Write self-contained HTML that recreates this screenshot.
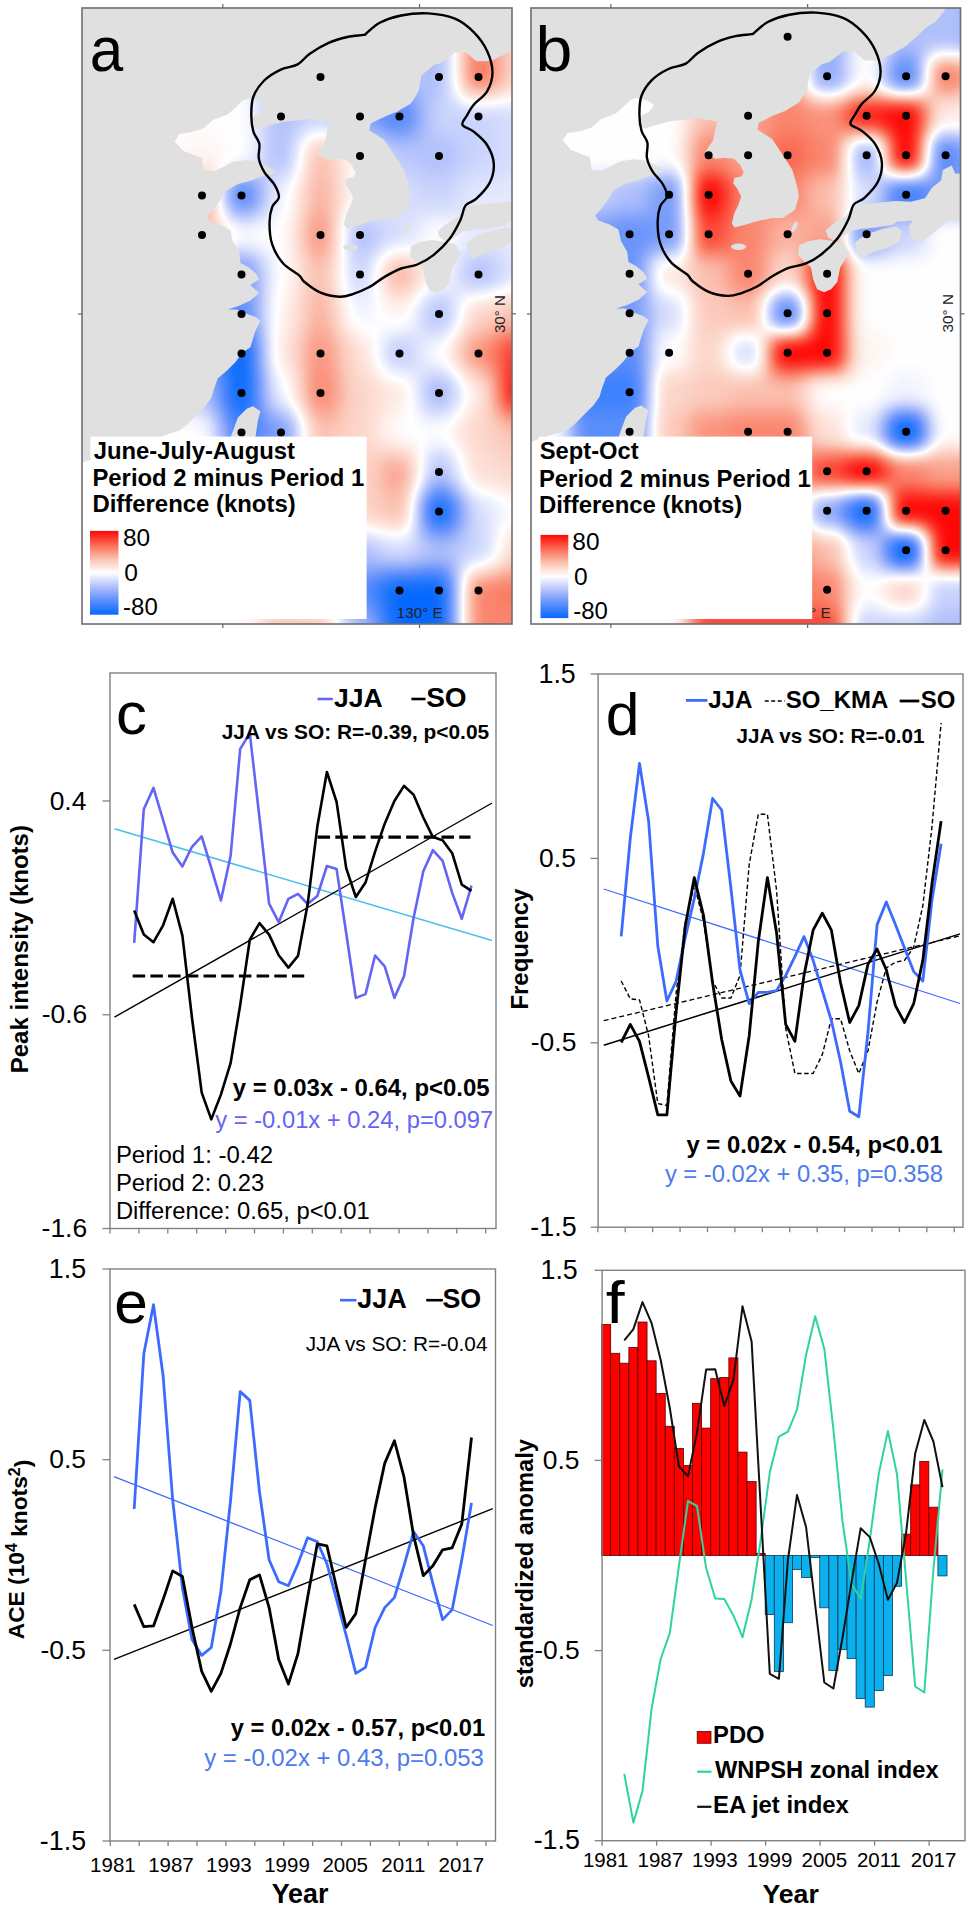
<!DOCTYPE html>
<html><head><meta charset="utf-8"><style>
html,body{margin:0;padding:0;background:#fff;}
svg{display:block;font-family:"Liberation Sans", sans-serif;}

</style></head><body>
<svg width="968" height="1909" viewBox="0 0 968 1909">
<rect x="0" y="0" width="968" height="1909" fill="#fff"/>
<defs>
<path id="seaP" d="M174.7,141.4 L179.3,133.9 L192.4,132.1 L203.5,128.3 L212.8,120.0 L227.7,114.4 L235.1,107.9 L242.6,100.5 L248.1,98.6 L259.3,101.4 L265.8,106.0 L261.2,112.5 L253.7,116.3 L250.0,126.5 L257.4,129.3 L268.6,125.6 L283.5,121.8 L302.1,120.0 L307.5,118.9 L318.0,120.5 L329.0,122.2 L327.0,132.0 L325.0,141.0 L316.9,153.1 L327.6,159.8 L337.0,158.5 L346.4,159.8 L351.8,165.2 L355.8,173.3 L353.1,177.3 L346.4,178.6 L345.1,184.0 L349.1,189.4 L353.1,197.4 L350.4,205.5 L346.4,213.6 L343.7,224.3 L346.4,228.3 L357.2,225.6 L370.6,221.6 L384.0,218.9 L394.8,218.9 L406.8,210.9 L410.9,197.4 L408.2,184.0 L404.2,170.6 L397.4,159.8 L389.4,147.7 L384.0,139.7 L373.3,133.0 L369.2,130.3 L370.6,123.6 L384.0,116.9 L397.4,111.5 L410.9,103.4 L416.2,95.4 L418.9,90.0 L421.4,75.5 L433.9,64.9 L441.0,63.1 L455.2,52.4 L465.9,52.4 L476.5,61.3 L490.7,61.3 L505.0,54.2 L517.4,47.1 L529.8,36.4 L536.9,29.3 L547.6,22.2 L556.5,11.6 L560.0,0.0 L600.0,0.0 L600.0,640.0 L60.0,640.0 L60.0,470.0 L180.0,430.2 L186.3,425.2 L195.1,416.4 L205.2,406.3 L211.4,397.5 L214.0,388.7 L217.7,378.6 L227.8,369.8 L235.3,362.3 L242.9,352.2 L250.4,347.2 L253.0,338.4 L255.5,330.8 L260.5,320.8 L255.5,317.0 L245.4,313.2 L236.6,309.4 L227.8,309.4 L239.1,305.7 L250.4,300.6 L259.2,293.1 L250.4,285.0 L259.2,279.2 L255.5,273.0 L247.9,266.7 L240.4,262.9 L239.1,252.8 L232.8,241.5 L230.3,230.2 L221.5,225.2 L210.2,221.4 L207.0,216.4 L212.7,210.1 L220.3,200.0 L225.1,191.2 L238.1,184.0 L249.7,181.1 L261.2,176.8 L272.8,173.9 L276.0,172.0 L272.3,169.3 L259.3,161.8 L246.3,160.0 L233.3,161.8 L214.7,171.1 L203.5,171.1 L201.7,158.1 L183.1,150.7 Z"/>
<clipPath id="seaclip"><path d="M174.7,141.4 L179.3,133.9 L192.4,132.1 L203.5,128.3 L212.8,120.0 L227.7,114.4 L235.1,107.9 L242.6,100.5 L248.1,98.6 L259.3,101.4 L265.8,106.0 L261.2,112.5 L253.7,116.3 L250.0,126.5 L257.4,129.3 L268.6,125.6 L283.5,121.8 L302.1,120.0 L307.5,118.9 L318.0,120.5 L329.0,122.2 L327.0,132.0 L325.0,141.0 L316.9,153.1 L327.6,159.8 L337.0,158.5 L346.4,159.8 L351.8,165.2 L355.8,173.3 L353.1,177.3 L346.4,178.6 L345.1,184.0 L349.1,189.4 L353.1,197.4 L350.4,205.5 L346.4,213.6 L343.7,224.3 L346.4,228.3 L357.2,225.6 L370.6,221.6 L384.0,218.9 L394.8,218.9 L406.8,210.9 L410.9,197.4 L408.2,184.0 L404.2,170.6 L397.4,159.8 L389.4,147.7 L384.0,139.7 L373.3,133.0 L369.2,130.3 L370.6,123.6 L384.0,116.9 L397.4,111.5 L410.9,103.4 L416.2,95.4 L418.9,90.0 L421.4,75.5 L433.9,64.9 L441.0,63.1 L455.2,52.4 L465.9,52.4 L476.5,61.3 L490.7,61.3 L505.0,54.2 L517.4,47.1 L529.8,36.4 L536.9,29.3 L547.6,22.2 L556.5,11.6 L560.0,0.0 L600.0,0.0 L600.0,640.0 L60.0,640.0 L60.0,470.0 L180.0,430.2 L186.3,425.2 L195.1,416.4 L205.2,406.3 L211.4,397.5 L214.0,388.7 L217.7,378.6 L227.8,369.8 L235.3,362.3 L242.9,352.2 L250.4,347.2 L253.0,338.4 L255.5,330.8 L260.5,320.8 L255.5,317.0 L245.4,313.2 L236.6,309.4 L227.8,309.4 L239.1,305.7 L250.4,300.6 L259.2,293.1 L250.4,285.0 L259.2,279.2 L255.5,273.0 L247.9,266.7 L240.4,262.9 L239.1,252.8 L232.8,241.5 L230.3,230.2 L221.5,225.2 L210.2,221.4 L207.0,216.4 L212.7,210.1 L220.3,200.0 L225.1,191.2 L238.1,184.0 L249.7,181.1 L261.2,176.8 L272.8,173.9 L276.0,172.0 L272.3,169.3 L259.3,161.8 L246.3,160.0 L233.3,161.8 L214.7,171.1 L203.5,171.1 L201.7,158.1 L183.1,150.7 Z"/></clipPath>
<filter id="fa" x="0" y="-60" width="700" height="760" filterUnits="userSpaceOnUse" color-interpolation-filters="sRGB"><feGaussianBlur stdDeviation="11.5"/><feComponentTransfer><feFuncR type="table" tableValues="0.020 0.071 0.123 0.174 0.225 0.277 0.328 0.380 0.431 0.480 0.529 0.578 0.627 0.676 0.725 0.771 0.817 0.863 0.908 0.954 1.000 0.998 0.996 0.994 0.992 0.990 0.988 0.987 0.986 0.984 0.983 0.982 0.980 0.983 0.985 0.988 0.990 0.993 0.995 0.998 1.000"/><feFuncG type="table" tableValues="0.412 0.434 0.456 0.478 0.500 0.522 0.544 0.566 0.588 0.620 0.651 0.682 0.714 0.745 0.776 0.814 0.851 0.888 0.925 0.963 1.000 0.964 0.928 0.892 0.856 0.820 0.784 0.735 0.686 0.637 0.588 0.539 0.490 0.433 0.375 0.318 0.261 0.203 0.146 0.089 0.031"/><feFuncB type="table" tableValues="1.000 0.999 0.997 0.996 0.994 0.993 0.991 0.990 0.988 0.988 0.988 0.988 0.988 0.988 0.988 0.990 0.992 0.994 0.996 0.998 1.000 0.954 0.908 0.863 0.817 0.771 0.725 0.670 0.614 0.559 0.503 0.448 0.392 0.346 0.299 0.252 0.206 0.159 0.113 0.066 0.020"/><feFuncA type="linear" slope="100" intercept="0"/></feComponentTransfer></filter>
<filter id="fb" x="0" y="-60" width="700" height="760" filterUnits="userSpaceOnUse" color-interpolation-filters="sRGB"><feGaussianBlur stdDeviation="10"/><feComponentTransfer><feFuncR type="table" tableValues="0.020 0.071 0.123 0.174 0.225 0.277 0.328 0.380 0.431 0.480 0.529 0.578 0.627 0.676 0.725 0.771 0.817 0.863 0.908 0.954 1.000 0.998 0.996 0.994 0.992 0.990 0.988 0.987 0.986 0.984 0.983 0.982 0.980 0.983 0.985 0.988 0.990 0.993 0.995 0.998 1.000"/><feFuncG type="table" tableValues="0.412 0.434 0.456 0.478 0.500 0.522 0.544 0.566 0.588 0.620 0.651 0.682 0.714 0.745 0.776 0.814 0.851 0.888 0.925 0.963 1.000 0.964 0.928 0.892 0.856 0.820 0.784 0.735 0.686 0.637 0.588 0.539 0.490 0.433 0.375 0.318 0.261 0.203 0.146 0.089 0.031"/><feFuncB type="table" tableValues="1.000 0.999 0.997 0.996 0.994 0.993 0.991 0.990 0.988 0.988 0.988 0.988 0.988 0.988 0.988 0.990 0.992 0.994 0.996 0.998 1.000 0.954 0.908 0.863 0.817 0.771 0.725 0.670 0.614 0.559 0.503 0.448 0.392 0.346 0.299 0.252 0.206 0.159 0.113 0.066 0.020"/><feFuncA type="linear" slope="100" intercept="0"/></feComponentTransfer></filter>
</defs>
<clipPath id="clipa"><rect x="82" y="8" width="430" height="616"/></clipPath>
<clipPath id="clipb"><rect x="531" y="8" width="429.5" height="616"/></clipPath>
<g clip-path="url(#clipa)">
<rect x="82.00" y="8.00" width="430.00" height="616.00" fill="#e0e0e0" stroke="none" stroke-width="1"/>
<g transform="translate(0,0)">
<g clip-path="url(#seaclip)"><g filter="url(#fa)"><rect x="24.2" y="-61.2" width="40.1" height="40.1" fill="rgb(128,128,128)"/><rect x="63.8" y="-61.2" width="40.1" height="40.1" fill="rgb(128,128,128)"/><rect x="103.2" y="-61.2" width="40.1" height="40.1" fill="rgb(128,128,128)"/><rect x="142.8" y="-61.2" width="40.1" height="40.1" fill="rgb(128,128,128)"/><rect x="182.2" y="-61.2" width="40.1" height="40.1" fill="rgb(128,128,128)"/><rect x="221.8" y="-61.2" width="40.1" height="40.1" fill="rgb(128,128,128)"/><rect x="261.2" y="-61.2" width="40.1" height="40.1" fill="rgb(128,128,128)"/><rect x="300.8" y="-61.2" width="40.1" height="40.1" fill="rgb(128,128,128)"/><rect x="340.2" y="-61.2" width="40.1" height="40.1" fill="rgb(128,128,128)"/><rect x="379.8" y="-61.2" width="40.1" height="40.1" fill="rgb(85,85,85)"/><rect x="419.2" y="-61.2" width="40.1" height="40.1" fill="rgb(85,85,85)"/><rect x="458.8" y="-61.2" width="40.1" height="40.1" fill="rgb(185,185,185)"/><rect x="498.2" y="-61.2" width="40.1" height="40.1" fill="rgb(156,156,156)"/><rect x="537.8" y="-61.2" width="40.1" height="40.1" fill="rgb(128,128,128)"/><rect x="577.2" y="-61.2" width="40.1" height="40.1" fill="rgb(128,128,128)"/><rect x="24.2" y="-21.8" width="40.1" height="40.1" fill="rgb(128,128,128)"/><rect x="63.8" y="-21.8" width="40.1" height="40.1" fill="rgb(128,128,128)"/><rect x="103.2" y="-21.8" width="40.1" height="40.1" fill="rgb(128,128,128)"/><rect x="142.8" y="-21.8" width="40.1" height="40.1" fill="rgb(128,128,128)"/><rect x="182.2" y="-21.8" width="40.1" height="40.1" fill="rgb(128,128,128)"/><rect x="221.8" y="-21.8" width="40.1" height="40.1" fill="rgb(128,128,128)"/><rect x="261.2" y="-21.8" width="40.1" height="40.1" fill="rgb(128,128,128)"/><rect x="300.8" y="-21.8" width="40.1" height="40.1" fill="rgb(128,128,128)"/><rect x="340.2" y="-21.8" width="40.1" height="40.1" fill="rgb(128,128,128)"/><rect x="379.8" y="-21.8" width="40.1" height="40.1" fill="rgb(85,85,85)"/><rect x="419.2" y="-21.8" width="40.1" height="40.1" fill="rgb(85,85,85)"/><rect x="458.8" y="-21.8" width="40.1" height="40.1" fill="rgb(199,199,199)"/><rect x="498.2" y="-21.8" width="40.1" height="40.1" fill="rgb(156,156,156)"/><rect x="537.8" y="-21.8" width="40.1" height="40.1" fill="rgb(128,128,128)"/><rect x="577.2" y="-21.8" width="40.1" height="40.1" fill="rgb(128,128,128)"/><rect x="24.2" y="17.8" width="40.1" height="40.1" fill="rgb(128,128,128)"/><rect x="63.8" y="17.8" width="40.1" height="40.1" fill="rgb(128,128,128)"/><rect x="103.2" y="17.8" width="40.1" height="40.1" fill="rgb(128,128,128)"/><rect x="142.8" y="17.8" width="40.1" height="40.1" fill="rgb(128,128,128)"/><rect x="182.2" y="17.8" width="40.1" height="40.1" fill="rgb(128,128,128)"/><rect x="221.8" y="17.8" width="40.1" height="40.1" fill="rgb(128,128,128)"/><rect x="261.2" y="17.8" width="40.1" height="40.1" fill="rgb(113,113,113)"/><rect x="300.8" y="17.8" width="40.1" height="40.1" fill="rgb(128,128,128)"/><rect x="340.2" y="17.8" width="40.1" height="40.1" fill="rgb(128,128,128)"/><rect x="379.8" y="17.8" width="40.1" height="40.1" fill="rgb(85,85,85)"/><rect x="419.2" y="17.8" width="40.1" height="40.1" fill="rgb(85,85,85)"/><rect x="458.8" y="17.8" width="40.1" height="40.1" fill="rgb(206,206,206)"/><rect x="498.2" y="17.8" width="40.1" height="40.1" fill="rgb(156,156,156)"/><rect x="537.8" y="17.8" width="40.1" height="40.1" fill="rgb(128,128,128)"/><rect x="577.2" y="17.8" width="40.1" height="40.1" fill="rgb(128,128,128)"/><rect x="24.2" y="57.2" width="40.1" height="40.1" fill="rgb(128,128,128)"/><rect x="63.8" y="57.2" width="40.1" height="40.1" fill="rgb(128,128,128)"/><rect x="103.2" y="57.2" width="40.1" height="40.1" fill="rgb(128,128,128)"/><rect x="142.8" y="57.2" width="40.1" height="40.1" fill="rgb(128,128,128)"/><rect x="182.2" y="57.2" width="40.1" height="40.1" fill="rgb(128,128,128)"/><rect x="221.8" y="57.2" width="40.1" height="40.1" fill="rgb(120,120,120)"/><rect x="261.2" y="57.2" width="40.1" height="40.1" fill="rgb(99,99,99)"/><rect x="300.8" y="57.2" width="40.1" height="40.1" fill="rgb(99,99,99)"/><rect x="340.2" y="57.2" width="40.1" height="40.1" fill="rgb(85,85,85)"/><rect x="379.8" y="57.2" width="40.1" height="40.1" fill="rgb(85,85,85)"/><rect x="419.2" y="57.2" width="40.1" height="40.1" fill="rgb(85,85,85)"/><rect x="458.8" y="57.2" width="40.1" height="40.1" fill="rgb(206,206,206)"/><rect x="498.2" y="57.2" width="40.1" height="40.1" fill="rgb(156,156,156)"/><rect x="537.8" y="57.2" width="40.1" height="40.1" fill="rgb(142,142,142)"/><rect x="577.2" y="57.2" width="40.1" height="40.1" fill="rgb(128,128,128)"/><rect x="24.2" y="96.8" width="40.1" height="40.1" fill="rgb(128,128,128)"/><rect x="63.8" y="96.8" width="40.1" height="40.1" fill="rgb(128,128,128)"/><rect x="103.2" y="96.8" width="40.1" height="40.1" fill="rgb(128,128,128)"/><rect x="142.8" y="96.8" width="40.1" height="40.1" fill="rgb(128,128,128)"/><rect x="182.2" y="96.8" width="40.1" height="40.1" fill="rgb(128,128,128)"/><rect x="221.8" y="96.8" width="40.1" height="40.1" fill="rgb(128,128,128)"/><rect x="261.2" y="96.8" width="40.1" height="40.1" fill="rgb(85,85,85)"/><rect x="300.8" y="96.8" width="40.1" height="40.1" fill="rgb(99,99,99)"/><rect x="340.2" y="96.8" width="40.1" height="40.1" fill="rgb(63,63,63)"/><rect x="379.8" y="96.8" width="40.1" height="40.1" fill="rgb(35,35,35)"/><rect x="419.2" y="96.8" width="40.1" height="40.1" fill="rgb(99,99,99)"/><rect x="458.8" y="96.8" width="40.1" height="40.1" fill="rgb(99,99,99)"/><rect x="498.2" y="96.8" width="40.1" height="40.1" fill="rgb(106,106,106)"/><rect x="537.8" y="96.8" width="40.1" height="40.1" fill="rgb(128,128,128)"/><rect x="577.2" y="96.8" width="40.1" height="40.1" fill="rgb(128,128,128)"/><rect x="24.2" y="136.2" width="40.1" height="40.1" fill="rgb(128,128,128)"/><rect x="63.8" y="136.2" width="40.1" height="40.1" fill="rgb(128,128,128)"/><rect x="103.2" y="136.2" width="40.1" height="40.1" fill="rgb(128,128,128)"/><rect x="142.8" y="136.2" width="40.1" height="40.1" fill="rgb(128,128,128)"/><rect x="182.2" y="136.2" width="40.1" height="40.1" fill="rgb(135,135,135)"/><rect x="221.8" y="136.2" width="40.1" height="40.1" fill="rgb(128,128,128)"/><rect x="261.2" y="136.2" width="40.1" height="40.1" fill="rgb(85,85,85)"/><rect x="300.8" y="136.2" width="40.1" height="40.1" fill="rgb(170,170,170)"/><rect x="340.2" y="136.2" width="40.1" height="40.1" fill="rgb(128,128,128)"/><rect x="379.8" y="136.2" width="40.1" height="40.1" fill="rgb(92,92,92)"/><rect x="419.2" y="136.2" width="40.1" height="40.1" fill="rgb(85,85,85)"/><rect x="458.8" y="136.2" width="40.1" height="40.1" fill="rgb(99,99,99)"/><rect x="498.2" y="136.2" width="40.1" height="40.1" fill="rgb(106,106,106)"/><rect x="537.8" y="136.2" width="40.1" height="40.1" fill="rgb(128,128,128)"/><rect x="577.2" y="136.2" width="40.1" height="40.1" fill="rgb(128,128,128)"/><rect x="24.2" y="175.8" width="40.1" height="40.1" fill="rgb(128,128,128)"/><rect x="63.8" y="175.8" width="40.1" height="40.1" fill="rgb(128,128,128)"/><rect x="103.2" y="175.8" width="40.1" height="40.1" fill="rgb(128,128,128)"/><rect x="142.8" y="175.8" width="40.1" height="40.1" fill="rgb(185,185,185)"/><rect x="182.2" y="175.8" width="40.1" height="40.1" fill="rgb(192,192,192)"/><rect x="221.8" y="175.8" width="40.1" height="40.1" fill="rgb(35,35,35)"/><rect x="261.2" y="175.8" width="40.1" height="40.1" fill="rgb(120,120,120)"/><rect x="300.8" y="175.8" width="40.1" height="40.1" fill="rgb(177,177,177)"/><rect x="340.2" y="175.8" width="40.1" height="40.1" fill="rgb(128,128,128)"/><rect x="379.8" y="175.8" width="40.1" height="40.1" fill="rgb(106,106,106)"/><rect x="419.2" y="175.8" width="40.1" height="40.1" fill="rgb(99,99,99)"/><rect x="458.8" y="175.8" width="40.1" height="40.1" fill="rgb(113,113,113)"/><rect x="498.2" y="175.8" width="40.1" height="40.1" fill="rgb(113,113,113)"/><rect x="537.8" y="175.8" width="40.1" height="40.1" fill="rgb(128,128,128)"/><rect x="577.2" y="175.8" width="40.1" height="40.1" fill="rgb(128,128,128)"/><rect x="24.2" y="215.2" width="40.1" height="40.1" fill="rgb(128,128,128)"/><rect x="63.8" y="215.2" width="40.1" height="40.1" fill="rgb(128,128,128)"/><rect x="103.2" y="215.2" width="40.1" height="40.1" fill="rgb(128,128,128)"/><rect x="142.8" y="215.2" width="40.1" height="40.1" fill="rgb(170,170,170)"/><rect x="182.2" y="215.2" width="40.1" height="40.1" fill="rgb(170,170,170)"/><rect x="221.8" y="215.2" width="40.1" height="40.1" fill="rgb(128,128,128)"/><rect x="261.2" y="215.2" width="40.1" height="40.1" fill="rgb(128,128,128)"/><rect x="300.8" y="215.2" width="40.1" height="40.1" fill="rgb(192,192,192)"/><rect x="340.2" y="215.2" width="40.1" height="40.1" fill="rgb(85,85,85)"/><rect x="379.8" y="215.2" width="40.1" height="40.1" fill="rgb(106,106,106)"/><rect x="419.2" y="215.2" width="40.1" height="40.1" fill="rgb(128,128,128)"/><rect x="458.8" y="215.2" width="40.1" height="40.1" fill="rgb(113,113,113)"/><rect x="498.2" y="215.2" width="40.1" height="40.1" fill="rgb(113,113,113)"/><rect x="537.8" y="215.2" width="40.1" height="40.1" fill="rgb(128,128,128)"/><rect x="577.2" y="215.2" width="40.1" height="40.1" fill="rgb(128,128,128)"/><rect x="24.2" y="254.8" width="40.1" height="40.1" fill="rgb(128,128,128)"/><rect x="63.8" y="254.8" width="40.1" height="40.1" fill="rgb(128,128,128)"/><rect x="103.2" y="254.8" width="40.1" height="40.1" fill="rgb(128,128,128)"/><rect x="142.8" y="254.8" width="40.1" height="40.1" fill="rgb(70,70,70)"/><rect x="182.2" y="254.8" width="40.1" height="40.1" fill="rgb(70,70,70)"/><rect x="221.8" y="254.8" width="40.1" height="40.1" fill="rgb(49,49,49)"/><rect x="261.2" y="254.8" width="40.1" height="40.1" fill="rgb(128,128,128)"/><rect x="300.8" y="254.8" width="40.1" height="40.1" fill="rgb(170,170,170)"/><rect x="340.2" y="254.8" width="40.1" height="40.1" fill="rgb(99,99,99)"/><rect x="379.8" y="254.8" width="40.1" height="40.1" fill="rgb(177,177,177)"/><rect x="419.2" y="254.8" width="40.1" height="40.1" fill="rgb(128,128,128)"/><rect x="458.8" y="254.8" width="40.1" height="40.1" fill="rgb(85,85,85)"/><rect x="498.2" y="254.8" width="40.1" height="40.1" fill="rgb(113,113,113)"/><rect x="537.8" y="254.8" width="40.1" height="40.1" fill="rgb(128,128,128)"/><rect x="577.2" y="254.8" width="40.1" height="40.1" fill="rgb(128,128,128)"/><rect x="24.2" y="294.2" width="40.1" height="40.1" fill="rgb(128,128,128)"/><rect x="63.8" y="294.2" width="40.1" height="40.1" fill="rgb(128,128,128)"/><rect x="103.2" y="294.2" width="40.1" height="40.1" fill="rgb(128,128,128)"/><rect x="142.8" y="294.2" width="40.1" height="40.1" fill="rgb(56,56,56)"/><rect x="182.2" y="294.2" width="40.1" height="40.1" fill="rgb(56,56,56)"/><rect x="221.8" y="294.2" width="40.1" height="40.1" fill="rgb(42,42,42)"/><rect x="261.2" y="294.2" width="40.1" height="40.1" fill="rgb(135,135,135)"/><rect x="300.8" y="294.2" width="40.1" height="40.1" fill="rgb(177,177,177)"/><rect x="340.2" y="294.2" width="40.1" height="40.1" fill="rgb(120,120,120)"/><rect x="379.8" y="294.2" width="40.1" height="40.1" fill="rgb(135,135,135)"/><rect x="419.2" y="294.2" width="40.1" height="40.1" fill="rgb(85,85,85)"/><rect x="458.8" y="294.2" width="40.1" height="40.1" fill="rgb(156,156,156)"/><rect x="498.2" y="294.2" width="40.1" height="40.1" fill="rgb(170,170,170)"/><rect x="537.8" y="294.2" width="40.1" height="40.1" fill="rgb(128,128,128)"/><rect x="577.2" y="294.2" width="40.1" height="40.1" fill="rgb(128,128,128)"/><rect x="24.2" y="333.8" width="40.1" height="40.1" fill="rgb(128,128,128)"/><rect x="63.8" y="333.8" width="40.1" height="40.1" fill="rgb(128,128,128)"/><rect x="103.2" y="333.8" width="40.1" height="40.1" fill="rgb(128,128,128)"/><rect x="142.8" y="333.8" width="40.1" height="40.1" fill="rgb(128,128,128)"/><rect x="182.2" y="333.8" width="40.1" height="40.1" fill="rgb(56,56,56)"/><rect x="221.8" y="333.8" width="40.1" height="40.1" fill="rgb(0,0,0)"/><rect x="261.2" y="333.8" width="40.1" height="40.1" fill="rgb(142,142,142)"/><rect x="300.8" y="333.8" width="40.1" height="40.1" fill="rgb(192,192,192)"/><rect x="340.2" y="333.8" width="40.1" height="40.1" fill="rgb(149,149,149)"/><rect x="379.8" y="333.8" width="40.1" height="40.1" fill="rgb(92,92,92)"/><rect x="419.2" y="333.8" width="40.1" height="40.1" fill="rgb(128,128,128)"/><rect x="458.8" y="333.8" width="40.1" height="40.1" fill="rgb(192,192,192)"/><rect x="498.2" y="333.8" width="40.1" height="40.1" fill="rgb(235,235,235)"/><rect x="537.8" y="333.8" width="40.1" height="40.1" fill="rgb(128,128,128)"/><rect x="577.2" y="333.8" width="40.1" height="40.1" fill="rgb(128,128,128)"/><rect x="24.2" y="373.2" width="40.1" height="40.1" fill="rgb(128,128,128)"/><rect x="63.8" y="373.2" width="40.1" height="40.1" fill="rgb(128,128,128)"/><rect x="103.2" y="373.2" width="40.1" height="40.1" fill="rgb(128,128,128)"/><rect x="142.8" y="373.2" width="40.1" height="40.1" fill="rgb(128,128,128)"/><rect x="182.2" y="373.2" width="40.1" height="40.1" fill="rgb(85,85,85)"/><rect x="221.8" y="373.2" width="40.1" height="40.1" fill="rgb(0,0,0)"/><rect x="261.2" y="373.2" width="40.1" height="40.1" fill="rgb(120,120,120)"/><rect x="300.8" y="373.2" width="40.1" height="40.1" fill="rgb(199,199,199)"/><rect x="340.2" y="373.2" width="40.1" height="40.1" fill="rgb(156,156,156)"/><rect x="379.8" y="373.2" width="40.1" height="40.1" fill="rgb(142,142,142)"/><rect x="419.2" y="373.2" width="40.1" height="40.1" fill="rgb(78,78,78)"/><rect x="458.8" y="373.2" width="40.1" height="40.1" fill="rgb(142,142,142)"/><rect x="498.2" y="373.2" width="40.1" height="40.1" fill="rgb(255,255,255)"/><rect x="537.8" y="373.2" width="40.1" height="40.1" fill="rgb(128,128,128)"/><rect x="577.2" y="373.2" width="40.1" height="40.1" fill="rgb(128,128,128)"/><rect x="24.2" y="412.8" width="40.1" height="40.1" fill="rgb(128,128,128)"/><rect x="63.8" y="412.8" width="40.1" height="40.1" fill="rgb(128,128,128)"/><rect x="103.2" y="412.8" width="40.1" height="40.1" fill="rgb(128,128,128)"/><rect x="142.8" y="412.8" width="40.1" height="40.1" fill="rgb(128,128,128)"/><rect x="182.2" y="412.8" width="40.1" height="40.1" fill="rgb(128,128,128)"/><rect x="221.8" y="412.8" width="40.1" height="40.1" fill="rgb(28,28,28)"/><rect x="261.2" y="412.8" width="40.1" height="40.1" fill="rgb(56,56,56)"/><rect x="300.8" y="412.8" width="40.1" height="40.1" fill="rgb(170,170,170)"/><rect x="340.2" y="412.8" width="40.1" height="40.1" fill="rgb(156,156,156)"/><rect x="379.8" y="412.8" width="40.1" height="40.1" fill="rgb(128,128,128)"/><rect x="419.2" y="412.8" width="40.1" height="40.1" fill="rgb(128,128,128)"/><rect x="458.8" y="412.8" width="40.1" height="40.1" fill="rgb(156,156,156)"/><rect x="498.2" y="412.8" width="40.1" height="40.1" fill="rgb(170,170,170)"/><rect x="537.8" y="412.8" width="40.1" height="40.1" fill="rgb(128,128,128)"/><rect x="577.2" y="412.8" width="40.1" height="40.1" fill="rgb(128,128,128)"/><rect x="24.2" y="452.2" width="40.1" height="40.1" fill="rgb(128,128,128)"/><rect x="63.8" y="452.2" width="40.1" height="40.1" fill="rgb(128,128,128)"/><rect x="103.2" y="452.2" width="40.1" height="40.1" fill="rgb(128,128,128)"/><rect x="142.8" y="452.2" width="40.1" height="40.1" fill="rgb(128,128,128)"/><rect x="182.2" y="452.2" width="40.1" height="40.1" fill="rgb(128,128,128)"/><rect x="221.8" y="452.2" width="40.1" height="40.1" fill="rgb(99,99,99)"/><rect x="261.2" y="452.2" width="40.1" height="40.1" fill="rgb(99,99,99)"/><rect x="300.8" y="452.2" width="40.1" height="40.1" fill="rgb(156,156,156)"/><rect x="340.2" y="452.2" width="40.1" height="40.1" fill="rgb(156,156,156)"/><rect x="379.8" y="452.2" width="40.1" height="40.1" fill="rgb(185,185,185)"/><rect x="419.2" y="452.2" width="40.1" height="40.1" fill="rgb(85,85,85)"/><rect x="458.8" y="452.2" width="40.1" height="40.1" fill="rgb(149,149,149)"/><rect x="498.2" y="452.2" width="40.1" height="40.1" fill="rgb(156,156,156)"/><rect x="537.8" y="452.2" width="40.1" height="40.1" fill="rgb(128,128,128)"/><rect x="577.2" y="452.2" width="40.1" height="40.1" fill="rgb(128,128,128)"/><rect x="24.2" y="491.8" width="40.1" height="40.1" fill="rgb(128,128,128)"/><rect x="63.8" y="491.8" width="40.1" height="40.1" fill="rgb(128,128,128)"/><rect x="103.2" y="491.8" width="40.1" height="40.1" fill="rgb(128,128,128)"/><rect x="142.8" y="491.8" width="40.1" height="40.1" fill="rgb(128,128,128)"/><rect x="182.2" y="491.8" width="40.1" height="40.1" fill="rgb(128,128,128)"/><rect x="221.8" y="491.8" width="40.1" height="40.1" fill="rgb(128,128,128)"/><rect x="261.2" y="491.8" width="40.1" height="40.1" fill="rgb(128,128,128)"/><rect x="300.8" y="491.8" width="40.1" height="40.1" fill="rgb(156,156,156)"/><rect x="340.2" y="491.8" width="40.1" height="40.1" fill="rgb(156,156,156)"/><rect x="379.8" y="491.8" width="40.1" height="40.1" fill="rgb(170,170,170)"/><rect x="419.2" y="491.8" width="40.1" height="40.1" fill="rgb(0,0,0)"/><rect x="458.8" y="491.8" width="40.1" height="40.1" fill="rgb(106,106,106)"/><rect x="498.2" y="491.8" width="40.1" height="40.1" fill="rgb(128,128,128)"/><rect x="537.8" y="491.8" width="40.1" height="40.1" fill="rgb(128,128,128)"/><rect x="577.2" y="491.8" width="40.1" height="40.1" fill="rgb(128,128,128)"/><rect x="24.2" y="531.2" width="40.1" height="40.1" fill="rgb(128,128,128)"/><rect x="63.8" y="531.2" width="40.1" height="40.1" fill="rgb(128,128,128)"/><rect x="103.2" y="531.2" width="40.1" height="40.1" fill="rgb(128,128,128)"/><rect x="142.8" y="531.2" width="40.1" height="40.1" fill="rgb(128,128,128)"/><rect x="182.2" y="531.2" width="40.1" height="40.1" fill="rgb(128,128,128)"/><rect x="221.8" y="531.2" width="40.1" height="40.1" fill="rgb(128,128,128)"/><rect x="261.2" y="531.2" width="40.1" height="40.1" fill="rgb(128,128,128)"/><rect x="300.8" y="531.2" width="40.1" height="40.1" fill="rgb(128,128,128)"/><rect x="340.2" y="531.2" width="40.1" height="40.1" fill="rgb(85,85,85)"/><rect x="379.8" y="531.2" width="40.1" height="40.1" fill="rgb(106,106,106)"/><rect x="419.2" y="531.2" width="40.1" height="40.1" fill="rgb(85,85,85)"/><rect x="458.8" y="531.2" width="40.1" height="40.1" fill="rgb(99,99,99)"/><rect x="498.2" y="531.2" width="40.1" height="40.1" fill="rgb(156,156,156)"/><rect x="537.8" y="531.2" width="40.1" height="40.1" fill="rgb(128,128,128)"/><rect x="577.2" y="531.2" width="40.1" height="40.1" fill="rgb(128,128,128)"/><rect x="24.2" y="570.8" width="40.1" height="40.1" fill="rgb(128,128,128)"/><rect x="63.8" y="570.8" width="40.1" height="40.1" fill="rgb(128,128,128)"/><rect x="103.2" y="570.8" width="40.1" height="40.1" fill="rgb(128,128,128)"/><rect x="142.8" y="570.8" width="40.1" height="40.1" fill="rgb(128,128,128)"/><rect x="182.2" y="570.8" width="40.1" height="40.1" fill="rgb(128,128,128)"/><rect x="221.8" y="570.8" width="40.1" height="40.1" fill="rgb(128,128,128)"/><rect x="261.2" y="570.8" width="40.1" height="40.1" fill="rgb(128,128,128)"/><rect x="300.8" y="570.8" width="40.1" height="40.1" fill="rgb(99,99,99)"/><rect x="340.2" y="570.8" width="40.1" height="40.1" fill="rgb(42,42,42)"/><rect x="379.8" y="570.8" width="40.1" height="40.1" fill="rgb(0,0,0)"/><rect x="419.2" y="570.8" width="40.1" height="40.1" fill="rgb(0,0,0)"/><rect x="458.8" y="570.8" width="40.1" height="40.1" fill="rgb(199,199,199)"/><rect x="498.2" y="570.8" width="40.1" height="40.1" fill="rgb(206,206,206)"/><rect x="537.8" y="570.8" width="40.1" height="40.1" fill="rgb(128,128,128)"/><rect x="577.2" y="570.8" width="40.1" height="40.1" fill="rgb(128,128,128)"/><rect x="24.2" y="610.2" width="40.1" height="40.1" fill="rgb(128,128,128)"/><rect x="63.8" y="610.2" width="40.1" height="40.1" fill="rgb(128,128,128)"/><rect x="103.2" y="610.2" width="40.1" height="40.1" fill="rgb(128,128,128)"/><rect x="142.8" y="610.2" width="40.1" height="40.1" fill="rgb(128,128,128)"/><rect x="182.2" y="610.2" width="40.1" height="40.1" fill="rgb(128,128,128)"/><rect x="221.8" y="610.2" width="40.1" height="40.1" fill="rgb(128,128,128)"/><rect x="261.2" y="610.2" width="40.1" height="40.1" fill="rgb(170,170,170)"/><rect x="300.8" y="610.2" width="40.1" height="40.1" fill="rgb(170,170,170)"/><rect x="340.2" y="610.2" width="40.1" height="40.1" fill="rgb(85,85,85)"/><rect x="379.8" y="610.2" width="40.1" height="40.1" fill="rgb(0,0,0)"/><rect x="419.2" y="610.2" width="40.1" height="40.1" fill="rgb(0,0,0)"/><rect x="458.8" y="610.2" width="40.1" height="40.1" fill="rgb(199,199,199)"/><rect x="498.2" y="610.2" width="40.1" height="40.1" fill="rgb(199,199,199)"/><rect x="537.8" y="610.2" width="40.1" height="40.1" fill="rgb(128,128,128)"/><rect x="577.2" y="610.2" width="40.1" height="40.1" fill="rgb(128,128,128)"/><rect x="24.2" y="649.8" width="40.1" height="40.1" fill="rgb(128,128,128)"/><rect x="63.8" y="649.8" width="40.1" height="40.1" fill="rgb(128,128,128)"/><rect x="103.2" y="649.8" width="40.1" height="40.1" fill="rgb(128,128,128)"/><rect x="142.8" y="649.8" width="40.1" height="40.1" fill="rgb(128,128,128)"/><rect x="182.2" y="649.8" width="40.1" height="40.1" fill="rgb(128,128,128)"/><rect x="221.8" y="649.8" width="40.1" height="40.1" fill="rgb(128,128,128)"/><rect x="261.2" y="649.8" width="40.1" height="40.1" fill="rgb(170,170,170)"/><rect x="300.8" y="649.8" width="40.1" height="40.1" fill="rgb(170,170,170)"/><rect x="340.2" y="649.8" width="40.1" height="40.1" fill="rgb(85,85,85)"/><rect x="379.8" y="649.8" width="40.1" height="40.1" fill="rgb(0,0,0)"/><rect x="419.2" y="649.8" width="40.1" height="40.1" fill="rgb(0,0,0)"/><rect x="458.8" y="649.8" width="40.1" height="40.1" fill="rgb(199,199,199)"/><rect x="498.2" y="649.8" width="40.1" height="40.1" fill="rgb(199,199,199)"/><rect x="537.8" y="649.8" width="40.1" height="40.1" fill="rgb(128,128,128)"/><rect x="577.2" y="649.8" width="40.1" height="40.1" fill="rgb(128,128,128)"/></g></g>
<path d="M437.5,231.3 L446.3,224.0 L458.0,216.7 L465.4,206.4 L480.0,204.5 L494.5,203.0 L508.5,201.8 L522.7,202.6 L536.9,199.1 L544.0,188.4 L552.9,181.3 L554.7,170.7 L563.6,166.2 L567.1,174.2 L600.0,174.2 L600.0,220.4 L561.8,220.4 L552.9,227.5 L544.0,234.6 L533.4,243.5 L522.7,238.2 L520.9,227.5 L524.5,221.3 L508.5,222.5 L505.0,225.5 L487.4,228.4 L472.7,229.9 L463.9,231.3 L452.1,238.7 L446.3,241.6 L440.0,238.0 Z" fill="#e0e0e0"/>
<path d="M467.0,243.0 L478.0,235.0 L494.7,229.9 L507.9,227.0 L514.0,232.0 L510.8,243.1 L499.0,249.0 L484.4,253.3 L472.7,259.2 L468.0,250.0 Z" fill="#e0e0e0"/>
<path d="M411.0,246.0 L420.0,242.0 L432.0,240.0 L443.3,241.6 L455.0,244.0 L461.0,253.3 L456.0,262.0 L452.1,268.0 L449.2,282.7 L443.0,290.0 L436.0,293.0 L429.0,290.0 L425.0,280.0 L422.8,268.0 L416.0,262.0 L410.0,256.0 Z" fill="#e0e0e0"/>
<path d="M227.8,445.0 L237.9,417.6 L246.7,408.8 L253.0,406.3 L260.5,411.3 L258.0,420.1 L254.2,445.0 Z" fill="#e0e0e0"/>
<ellipse cx="350.5" cy="247.5" rx="7.5" ry="3.2" fill="#e0e0e0"/>
<ellipse cx="406.5" cy="227.5" rx="2.2" ry="5.5" transform="rotate(25 406.5 227.5)" fill="#e0e0e0"/>
<path d="M366.2,33.5 C368.9,31.5 373.9,25.8 379.7,22.8 C385.5,19.8 393.1,17.1 401.2,15.5 C409.2,13.9 419.1,12.9 428.0,13.4 C436.9,13.9 447.3,15.6 454.9,18.7 C462.5,21.8 468.3,26.8 473.7,32.2 C479.1,37.6 484.0,44.3 487.1,51.0 C490.2,57.7 492.5,65.8 492.5,72.5 C492.5,79.2 490.2,85.9 487.1,91.3 C484.0,96.7 477.1,100.7 473.7,104.7 C470.3,108.7 468.9,112.1 467.0,115.4 C465.1,118.8 461.3,122.1 462.4,124.8 C463.5,127.5 469.6,128.2 473.7,131.6 C477.8,135.0 483.8,139.6 487.1,145.0 C490.5,150.4 493.4,157.5 493.8,163.8 C494.2,170.1 492.7,176.8 489.8,182.6 C486.9,188.4 480.4,194.9 476.4,198.7 C472.4,202.5 468.3,201.8 465.6,205.4 C462.9,209.0 463.0,214.6 460.3,220.2 C457.6,225.8 454.0,233.2 449.5,239.0 C445.0,244.8 438.8,250.8 433.4,255.1 C428.0,259.4 422.7,262.3 417.3,264.5 C411.9,266.7 406.6,266.5 401.2,268.5 C395.8,270.5 390.4,273.5 385.0,276.6 C379.6,279.7 374.3,284.4 368.9,287.3 C363.5,290.2 357.7,292.5 352.8,294.1 C347.9,295.7 344.8,296.9 339.4,296.7 C334.0,296.5 326.4,295.1 320.6,292.7 C314.8,290.2 308.1,284.9 304.5,282.0 C300.9,279.1 302.7,278.4 299.1,275.3 C295.5,272.2 287.5,268.3 283.0,263.2 C278.5,258.1 274.4,251.1 272.2,244.4 C269.9,237.7 269.5,229.2 269.5,222.9 C269.5,216.6 270.6,211.1 272.2,206.8 C273.8,202.6 278.4,201.0 278.9,197.4 C279.3,193.8 277.3,189.6 274.9,185.3 C272.4,181.0 266.9,176.3 264.2,171.8 C261.5,167.3 259.6,163.1 258.8,158.4 C258.0,153.7 260.2,148.1 259.3,143.6 C258.4,139.1 254.7,136.3 253.4,131.6 C252.1,126.9 251.3,121.2 251.3,115.4 C251.3,109.6 251.2,102.4 253.4,96.6 C255.6,90.8 259.7,85.0 264.2,80.5 C268.7,76.0 274.7,72.5 280.3,69.8 C285.9,67.1 292.8,67.1 297.7,64.4 C302.6,61.7 304.6,57.3 309.8,53.7 C315.0,50.1 322.3,45.7 328.6,42.9 C334.9,40.1 341.6,38.3 347.4,37.0 C353.2,35.7 360.5,35.5 363.6,34.9 C366.7,34.3 363.5,35.5 366.2,33.5 Z" fill="none" stroke="#000" stroke-width="2.4"/>
<circle cx="320.5" cy="77.0" r="4.0" fill="#000"/>
<circle cx="439.0" cy="77.0" r="4.0" fill="#000"/>
<circle cx="478.5" cy="77.0" r="4.0" fill="#000"/>
<circle cx="281.0" cy="116.5" r="4.0" fill="#000"/>
<circle cx="360.0" cy="116.5" r="4.0" fill="#000"/>
<circle cx="399.5" cy="116.5" r="4.0" fill="#000"/>
<circle cx="478.5" cy="116.5" r="4.0" fill="#000"/>
<circle cx="360.0" cy="156.0" r="4.0" fill="#000"/>
<circle cx="439.0" cy="156.0" r="4.0" fill="#000"/>
<circle cx="202.0" cy="195.5" r="4.0" fill="#000"/>
<circle cx="241.5" cy="195.5" r="4.0" fill="#000"/>
<circle cx="202.0" cy="235.0" r="4.0" fill="#000"/>
<circle cx="320.5" cy="235.0" r="4.0" fill="#000"/>
<circle cx="360.0" cy="235.0" r="4.0" fill="#000"/>
<circle cx="241.5" cy="274.5" r="4.0" fill="#000"/>
<circle cx="360.0" cy="274.5" r="4.0" fill="#000"/>
<circle cx="478.5" cy="274.5" r="4.0" fill="#000"/>
<circle cx="241.5" cy="314.0" r="4.0" fill="#000"/>
<circle cx="439.0" cy="314.0" r="4.0" fill="#000"/>
<circle cx="241.5" cy="353.5" r="4.0" fill="#000"/>
<circle cx="320.5" cy="353.5" r="4.0" fill="#000"/>
<circle cx="399.5" cy="353.5" r="4.0" fill="#000"/>
<circle cx="478.5" cy="353.5" r="4.0" fill="#000"/>
<circle cx="241.5" cy="393.0" r="4.0" fill="#000"/>
<circle cx="320.5" cy="393.0" r="4.0" fill="#000"/>
<circle cx="439.0" cy="393.0" r="4.0" fill="#000"/>
<circle cx="241.5" cy="432.5" r="4.0" fill="#000"/>
<circle cx="281.0" cy="432.5" r="4.0" fill="#000"/>
<circle cx="439.0" cy="472.0" r="4.0" fill="#000"/>
<circle cx="439.0" cy="511.5" r="4.0" fill="#000"/>
<circle cx="399.5" cy="590.5" r="4.0" fill="#000"/>
<circle cx="439.0" cy="590.5" r="4.0" fill="#000"/>
<circle cx="478.5" cy="590.5" r="4.0" fill="#000"/>
</g></g>
<g clip-path="url(#clipb)">
<rect x="531.00" y="8.00" width="429.50" height="616.00" fill="#e0e0e0" stroke="none" stroke-width="1"/>
<g transform="translate(388.1,-0.8)">
<g clip-path="url(#seaclip)"><g filter="url(#fb)"><rect x="24.2" y="-61.2" width="40.1" height="40.1" fill="rgb(128,128,128)"/><rect x="63.8" y="-61.2" width="40.1" height="40.1" fill="rgb(128,128,128)"/><rect x="103.2" y="-61.2" width="40.1" height="40.1" fill="rgb(128,128,128)"/><rect x="142.8" y="-61.2" width="40.1" height="40.1" fill="rgb(128,128,128)"/><rect x="182.2" y="-61.2" width="40.1" height="40.1" fill="rgb(128,128,128)"/><rect x="221.8" y="-61.2" width="40.1" height="40.1" fill="rgb(128,128,128)"/><rect x="261.2" y="-61.2" width="40.1" height="40.1" fill="rgb(128,128,128)"/><rect x="300.8" y="-61.2" width="40.1" height="40.1" fill="rgb(128,128,128)"/><rect x="340.2" y="-61.2" width="40.1" height="40.1" fill="rgb(128,128,128)"/><rect x="379.8" y="-61.2" width="40.1" height="40.1" fill="rgb(128,128,128)"/><rect x="419.2" y="-61.2" width="40.1" height="40.1" fill="rgb(128,128,128)"/><rect x="458.8" y="-61.2" width="40.1" height="40.1" fill="rgb(128,128,128)"/><rect x="498.2" y="-61.2" width="40.1" height="40.1" fill="rgb(85,85,85)"/><rect x="537.8" y="-61.2" width="40.1" height="40.1" fill="rgb(85,85,85)"/><rect x="577.2" y="-61.2" width="40.1" height="40.1" fill="rgb(70,70,70)"/><rect x="24.2" y="-21.8" width="40.1" height="40.1" fill="rgb(128,128,128)"/><rect x="63.8" y="-21.8" width="40.1" height="40.1" fill="rgb(128,128,128)"/><rect x="103.2" y="-21.8" width="40.1" height="40.1" fill="rgb(128,128,128)"/><rect x="142.8" y="-21.8" width="40.1" height="40.1" fill="rgb(128,128,128)"/><rect x="182.2" y="-21.8" width="40.1" height="40.1" fill="rgb(128,128,128)"/><rect x="221.8" y="-21.8" width="40.1" height="40.1" fill="rgb(128,128,128)"/><rect x="261.2" y="-21.8" width="40.1" height="40.1" fill="rgb(128,128,128)"/><rect x="300.8" y="-21.8" width="40.1" height="40.1" fill="rgb(128,128,128)"/><rect x="340.2" y="-21.8" width="40.1" height="40.1" fill="rgb(128,128,128)"/><rect x="379.8" y="-21.8" width="40.1" height="40.1" fill="rgb(128,128,128)"/><rect x="419.2" y="-21.8" width="40.1" height="40.1" fill="rgb(128,128,128)"/><rect x="458.8" y="-21.8" width="40.1" height="40.1" fill="rgb(128,128,128)"/><rect x="498.2" y="-21.8" width="40.1" height="40.1" fill="rgb(85,85,85)"/><rect x="537.8" y="-21.8" width="40.1" height="40.1" fill="rgb(85,85,85)"/><rect x="577.2" y="-21.8" width="40.1" height="40.1" fill="rgb(70,70,70)"/><rect x="24.2" y="17.8" width="40.1" height="40.1" fill="rgb(128,128,128)"/><rect x="63.8" y="17.8" width="40.1" height="40.1" fill="rgb(128,128,128)"/><rect x="103.2" y="17.8" width="40.1" height="40.1" fill="rgb(128,128,128)"/><rect x="142.8" y="17.8" width="40.1" height="40.1" fill="rgb(128,128,128)"/><rect x="182.2" y="17.8" width="40.1" height="40.1" fill="rgb(128,128,128)"/><rect x="221.8" y="17.8" width="40.1" height="40.1" fill="rgb(128,128,128)"/><rect x="261.2" y="17.8" width="40.1" height="40.1" fill="rgb(128,128,128)"/><rect x="300.8" y="17.8" width="40.1" height="40.1" fill="rgb(128,128,128)"/><rect x="340.2" y="17.8" width="40.1" height="40.1" fill="rgb(128,128,128)"/><rect x="379.8" y="17.8" width="40.1" height="40.1" fill="rgb(128,128,128)"/><rect x="419.2" y="17.8" width="40.1" height="40.1" fill="rgb(70,70,70)"/><rect x="458.8" y="17.8" width="40.1" height="40.1" fill="rgb(128,128,128)"/><rect x="498.2" y="17.8" width="40.1" height="40.1" fill="rgb(85,85,85)"/><rect x="537.8" y="17.8" width="40.1" height="40.1" fill="rgb(85,85,85)"/><rect x="577.2" y="17.8" width="40.1" height="40.1" fill="rgb(70,70,70)"/><rect x="24.2" y="57.2" width="40.1" height="40.1" fill="rgb(128,128,128)"/><rect x="63.8" y="57.2" width="40.1" height="40.1" fill="rgb(128,128,128)"/><rect x="103.2" y="57.2" width="40.1" height="40.1" fill="rgb(128,128,128)"/><rect x="142.8" y="57.2" width="40.1" height="40.1" fill="rgb(128,128,128)"/><rect x="182.2" y="57.2" width="40.1" height="40.1" fill="rgb(128,128,128)"/><rect x="221.8" y="57.2" width="40.1" height="40.1" fill="rgb(128,128,128)"/><rect x="261.2" y="57.2" width="40.1" height="40.1" fill="rgb(128,128,128)"/><rect x="300.8" y="57.2" width="40.1" height="40.1" fill="rgb(128,128,128)"/><rect x="340.2" y="57.2" width="40.1" height="40.1" fill="rgb(128,128,128)"/><rect x="379.8" y="57.2" width="40.1" height="40.1" fill="rgb(185,185,185)"/><rect x="419.2" y="57.2" width="40.1" height="40.1" fill="rgb(70,70,70)"/><rect x="458.8" y="57.2" width="40.1" height="40.1" fill="rgb(128,128,128)"/><rect x="498.2" y="57.2" width="40.1" height="40.1" fill="rgb(42,42,42)"/><rect x="537.8" y="57.2" width="40.1" height="40.1" fill="rgb(199,199,199)"/><rect x="577.2" y="57.2" width="40.1" height="40.1" fill="rgb(170,170,170)"/><rect x="24.2" y="96.8" width="40.1" height="40.1" fill="rgb(128,128,128)"/><rect x="63.8" y="96.8" width="40.1" height="40.1" fill="rgb(128,128,128)"/><rect x="103.2" y="96.8" width="40.1" height="40.1" fill="rgb(128,128,128)"/><rect x="142.8" y="96.8" width="40.1" height="40.1" fill="rgb(128,128,128)"/><rect x="182.2" y="96.8" width="40.1" height="40.1" fill="rgb(128,128,128)"/><rect x="221.8" y="96.8" width="40.1" height="40.1" fill="rgb(128,128,128)"/><rect x="261.2" y="96.8" width="40.1" height="40.1" fill="rgb(128,128,128)"/><rect x="300.8" y="96.8" width="40.1" height="40.1" fill="rgb(170,170,170)"/><rect x="340.2" y="96.8" width="40.1" height="40.1" fill="rgb(185,185,185)"/><rect x="379.8" y="96.8" width="40.1" height="40.1" fill="rgb(199,199,199)"/><rect x="419.2" y="96.8" width="40.1" height="40.1" fill="rgb(192,192,192)"/><rect x="458.8" y="96.8" width="40.1" height="40.1" fill="rgb(242,242,242)"/><rect x="498.2" y="96.8" width="40.1" height="40.1" fill="rgb(255,255,255)"/><rect x="537.8" y="96.8" width="40.1" height="40.1" fill="rgb(142,142,142)"/><rect x="577.2" y="96.8" width="40.1" height="40.1" fill="rgb(128,128,128)"/><rect x="24.2" y="136.2" width="40.1" height="40.1" fill="rgb(128,128,128)"/><rect x="63.8" y="136.2" width="40.1" height="40.1" fill="rgb(128,128,128)"/><rect x="103.2" y="136.2" width="40.1" height="40.1" fill="rgb(128,128,128)"/><rect x="142.8" y="136.2" width="40.1" height="40.1" fill="rgb(128,128,128)"/><rect x="182.2" y="136.2" width="40.1" height="40.1" fill="rgb(128,128,128)"/><rect x="221.8" y="136.2" width="40.1" height="40.1" fill="rgb(128,128,128)"/><rect x="261.2" y="136.2" width="40.1" height="40.1" fill="rgb(128,128,128)"/><rect x="300.8" y="136.2" width="40.1" height="40.1" fill="rgb(199,199,199)"/><rect x="340.2" y="136.2" width="40.1" height="40.1" fill="rgb(185,185,185)"/><rect x="379.8" y="136.2" width="40.1" height="40.1" fill="rgb(213,213,213)"/><rect x="419.2" y="136.2" width="40.1" height="40.1" fill="rgb(199,199,199)"/><rect x="458.8" y="136.2" width="40.1" height="40.1" fill="rgb(78,78,78)"/><rect x="498.2" y="136.2" width="40.1" height="40.1" fill="rgb(255,255,255)"/><rect x="537.8" y="136.2" width="40.1" height="40.1" fill="rgb(42,42,42)"/><rect x="577.2" y="136.2" width="40.1" height="40.1" fill="rgb(85,85,85)"/><rect x="24.2" y="175.8" width="40.1" height="40.1" fill="rgb(128,128,128)"/><rect x="63.8" y="175.8" width="40.1" height="40.1" fill="rgb(128,128,128)"/><rect x="103.2" y="175.8" width="40.1" height="40.1" fill="rgb(128,128,128)"/><rect x="142.8" y="175.8" width="40.1" height="40.1" fill="rgb(128,128,128)"/><rect x="182.2" y="175.8" width="40.1" height="40.1" fill="rgb(99,99,99)"/><rect x="221.8" y="175.8" width="40.1" height="40.1" fill="rgb(85,85,85)"/><rect x="261.2" y="175.8" width="40.1" height="40.1" fill="rgb(56,56,56)"/><rect x="300.8" y="175.8" width="40.1" height="40.1" fill="rgb(255,255,255)"/><rect x="340.2" y="175.8" width="40.1" height="40.1" fill="rgb(199,199,199)"/><rect x="379.8" y="175.8" width="40.1" height="40.1" fill="rgb(199,199,199)"/><rect x="419.2" y="175.8" width="40.1" height="40.1" fill="rgb(170,170,170)"/><rect x="458.8" y="175.8" width="40.1" height="40.1" fill="rgb(106,106,106)"/><rect x="498.2" y="175.8" width="40.1" height="40.1" fill="rgb(28,28,28)"/><rect x="537.8" y="175.8" width="40.1" height="40.1" fill="rgb(56,56,56)"/><rect x="577.2" y="175.8" width="40.1" height="40.1" fill="rgb(70,70,70)"/><rect x="24.2" y="215.2" width="40.1" height="40.1" fill="rgb(128,128,128)"/><rect x="63.8" y="215.2" width="40.1" height="40.1" fill="rgb(128,128,128)"/><rect x="103.2" y="215.2" width="40.1" height="40.1" fill="rgb(128,128,128)"/><rect x="142.8" y="215.2" width="40.1" height="40.1" fill="rgb(128,128,128)"/><rect x="182.2" y="215.2" width="40.1" height="40.1" fill="rgb(56,56,56)"/><rect x="221.8" y="215.2" width="40.1" height="40.1" fill="rgb(49,49,49)"/><rect x="261.2" y="215.2" width="40.1" height="40.1" fill="rgb(56,56,56)"/><rect x="300.8" y="215.2" width="40.1" height="40.1" fill="rgb(227,227,227)"/><rect x="340.2" y="215.2" width="40.1" height="40.1" fill="rgb(199,199,199)"/><rect x="379.8" y="215.2" width="40.1" height="40.1" fill="rgb(177,177,177)"/><rect x="419.2" y="215.2" width="40.1" height="40.1" fill="rgb(185,185,185)"/><rect x="458.8" y="215.2" width="40.1" height="40.1" fill="rgb(56,56,56)"/><rect x="498.2" y="215.2" width="40.1" height="40.1" fill="rgb(99,99,99)"/><rect x="537.8" y="215.2" width="40.1" height="40.1" fill="rgb(128,128,128)"/><rect x="577.2" y="215.2" width="40.1" height="40.1" fill="rgb(128,128,128)"/><rect x="24.2" y="254.8" width="40.1" height="40.1" fill="rgb(128,128,128)"/><rect x="63.8" y="254.8" width="40.1" height="40.1" fill="rgb(128,128,128)"/><rect x="103.2" y="254.8" width="40.1" height="40.1" fill="rgb(128,128,128)"/><rect x="142.8" y="254.8" width="40.1" height="40.1" fill="rgb(128,128,128)"/><rect x="182.2" y="254.8" width="40.1" height="40.1" fill="rgb(56,56,56)"/><rect x="221.8" y="254.8" width="40.1" height="40.1" fill="rgb(49,49,49)"/><rect x="261.2" y="254.8" width="40.1" height="40.1" fill="rgb(142,142,142)"/><rect x="300.8" y="254.8" width="40.1" height="40.1" fill="rgb(170,170,170)"/><rect x="340.2" y="254.8" width="40.1" height="40.1" fill="rgb(199,199,199)"/><rect x="379.8" y="254.8" width="40.1" height="40.1" fill="rgb(156,156,156)"/><rect x="419.2" y="254.8" width="40.1" height="40.1" fill="rgb(255,255,255)"/><rect x="458.8" y="254.8" width="40.1" height="40.1" fill="rgb(128,128,128)"/><rect x="498.2" y="254.8" width="40.1" height="40.1" fill="rgb(128,128,128)"/><rect x="537.8" y="254.8" width="40.1" height="40.1" fill="rgb(128,128,128)"/><rect x="577.2" y="254.8" width="40.1" height="40.1" fill="rgb(128,128,128)"/><rect x="24.2" y="294.2" width="40.1" height="40.1" fill="rgb(128,128,128)"/><rect x="63.8" y="294.2" width="40.1" height="40.1" fill="rgb(128,128,128)"/><rect x="103.2" y="294.2" width="40.1" height="40.1" fill="rgb(128,128,128)"/><rect x="142.8" y="294.2" width="40.1" height="40.1" fill="rgb(128,128,128)"/><rect x="182.2" y="294.2" width="40.1" height="40.1" fill="rgb(56,56,56)"/><rect x="221.8" y="294.2" width="40.1" height="40.1" fill="rgb(56,56,56)"/><rect x="261.2" y="294.2" width="40.1" height="40.1" fill="rgb(106,106,106)"/><rect x="300.8" y="294.2" width="40.1" height="40.1" fill="rgb(163,163,163)"/><rect x="340.2" y="294.2" width="40.1" height="40.1" fill="rgb(170,170,170)"/><rect x="379.8" y="294.2" width="40.1" height="40.1" fill="rgb(42,42,42)"/><rect x="419.2" y="294.2" width="40.1" height="40.1" fill="rgb(255,255,255)"/><rect x="458.8" y="294.2" width="40.1" height="40.1" fill="rgb(128,128,128)"/><rect x="498.2" y="294.2" width="40.1" height="40.1" fill="rgb(128,128,128)"/><rect x="537.8" y="294.2" width="40.1" height="40.1" fill="rgb(128,128,128)"/><rect x="577.2" y="294.2" width="40.1" height="40.1" fill="rgb(128,128,128)"/><rect x="24.2" y="333.8" width="40.1" height="40.1" fill="rgb(128,128,128)"/><rect x="63.8" y="333.8" width="40.1" height="40.1" fill="rgb(128,128,128)"/><rect x="103.2" y="333.8" width="40.1" height="40.1" fill="rgb(128,128,128)"/><rect x="142.8" y="333.8" width="40.1" height="40.1" fill="rgb(128,128,128)"/><rect x="182.2" y="333.8" width="40.1" height="40.1" fill="rgb(42,42,42)"/><rect x="221.8" y="333.8" width="40.1" height="40.1" fill="rgb(42,42,42)"/><rect x="261.2" y="333.8" width="40.1" height="40.1" fill="rgb(128,128,128)"/><rect x="300.8" y="333.8" width="40.1" height="40.1" fill="rgb(156,156,156)"/><rect x="340.2" y="333.8" width="40.1" height="40.1" fill="rgb(106,106,106)"/><rect x="379.8" y="333.8" width="40.1" height="40.1" fill="rgb(255,255,255)"/><rect x="419.2" y="333.8" width="40.1" height="40.1" fill="rgb(255,255,255)"/><rect x="458.8" y="333.8" width="40.1" height="40.1" fill="rgb(135,135,135)"/><rect x="498.2" y="333.8" width="40.1" height="40.1" fill="rgb(128,128,128)"/><rect x="537.8" y="333.8" width="40.1" height="40.1" fill="rgb(128,128,128)"/><rect x="577.2" y="333.8" width="40.1" height="40.1" fill="rgb(128,128,128)"/><rect x="24.2" y="373.2" width="40.1" height="40.1" fill="rgb(128,128,128)"/><rect x="63.8" y="373.2" width="40.1" height="40.1" fill="rgb(128,128,128)"/><rect x="103.2" y="373.2" width="40.1" height="40.1" fill="rgb(128,128,128)"/><rect x="142.8" y="373.2" width="40.1" height="40.1" fill="rgb(128,128,128)"/><rect x="182.2" y="373.2" width="40.1" height="40.1" fill="rgb(28,28,28)"/><rect x="221.8" y="373.2" width="40.1" height="40.1" fill="rgb(28,28,28)"/><rect x="261.2" y="373.2" width="40.1" height="40.1" fill="rgb(156,156,156)"/><rect x="300.8" y="373.2" width="40.1" height="40.1" fill="rgb(163,163,163)"/><rect x="340.2" y="373.2" width="40.1" height="40.1" fill="rgb(170,170,170)"/><rect x="379.8" y="373.2" width="40.1" height="40.1" fill="rgb(170,170,170)"/><rect x="419.2" y="373.2" width="40.1" height="40.1" fill="rgb(128,128,128)"/><rect x="458.8" y="373.2" width="40.1" height="40.1" fill="rgb(128,128,128)"/><rect x="498.2" y="373.2" width="40.1" height="40.1" fill="rgb(120,120,120)"/><rect x="537.8" y="373.2" width="40.1" height="40.1" fill="rgb(128,128,128)"/><rect x="577.2" y="373.2" width="40.1" height="40.1" fill="rgb(128,128,128)"/><rect x="24.2" y="412.8" width="40.1" height="40.1" fill="rgb(128,128,128)"/><rect x="63.8" y="412.8" width="40.1" height="40.1" fill="rgb(128,128,128)"/><rect x="103.2" y="412.8" width="40.1" height="40.1" fill="rgb(128,128,128)"/><rect x="142.8" y="412.8" width="40.1" height="40.1" fill="rgb(128,128,128)"/><rect x="182.2" y="412.8" width="40.1" height="40.1" fill="rgb(42,42,42)"/><rect x="221.8" y="412.8" width="40.1" height="40.1" fill="rgb(42,42,42)"/><rect x="261.2" y="412.8" width="40.1" height="40.1" fill="rgb(163,163,163)"/><rect x="300.8" y="412.8" width="40.1" height="40.1" fill="rgb(192,192,192)"/><rect x="340.2" y="412.8" width="40.1" height="40.1" fill="rgb(199,199,199)"/><rect x="379.8" y="412.8" width="40.1" height="40.1" fill="rgb(199,199,199)"/><rect x="419.2" y="412.8" width="40.1" height="40.1" fill="rgb(149,149,149)"/><rect x="458.8" y="412.8" width="40.1" height="40.1" fill="rgb(113,113,113)"/><rect x="498.2" y="412.8" width="40.1" height="40.1" fill="rgb(0,0,0)"/><rect x="537.8" y="412.8" width="40.1" height="40.1" fill="rgb(128,128,128)"/><rect x="577.2" y="412.8" width="40.1" height="40.1" fill="rgb(128,128,128)"/><rect x="24.2" y="452.2" width="40.1" height="40.1" fill="rgb(128,128,128)"/><rect x="63.8" y="452.2" width="40.1" height="40.1" fill="rgb(128,128,128)"/><rect x="103.2" y="452.2" width="40.1" height="40.1" fill="rgb(128,128,128)"/><rect x="142.8" y="452.2" width="40.1" height="40.1" fill="rgb(128,128,128)"/><rect x="182.2" y="452.2" width="40.1" height="40.1" fill="rgb(56,56,56)"/><rect x="221.8" y="452.2" width="40.1" height="40.1" fill="rgb(56,56,56)"/><rect x="261.2" y="452.2" width="40.1" height="40.1" fill="rgb(170,170,170)"/><rect x="300.8" y="452.2" width="40.1" height="40.1" fill="rgb(170,170,170)"/><rect x="340.2" y="452.2" width="40.1" height="40.1" fill="rgb(177,177,177)"/><rect x="379.8" y="452.2" width="40.1" height="40.1" fill="rgb(177,177,177)"/><rect x="419.2" y="452.2" width="40.1" height="40.1" fill="rgb(227,227,227)"/><rect x="458.8" y="452.2" width="40.1" height="40.1" fill="rgb(255,255,255)"/><rect x="498.2" y="452.2" width="40.1" height="40.1" fill="rgb(199,199,199)"/><rect x="537.8" y="452.2" width="40.1" height="40.1" fill="rgb(185,185,185)"/><rect x="577.2" y="452.2" width="40.1" height="40.1" fill="rgb(185,185,185)"/><rect x="24.2" y="491.8" width="40.1" height="40.1" fill="rgb(128,128,128)"/><rect x="63.8" y="491.8" width="40.1" height="40.1" fill="rgb(128,128,128)"/><rect x="103.2" y="491.8" width="40.1" height="40.1" fill="rgb(128,128,128)"/><rect x="142.8" y="491.8" width="40.1" height="40.1" fill="rgb(128,128,128)"/><rect x="182.2" y="491.8" width="40.1" height="40.1" fill="rgb(128,128,128)"/><rect x="221.8" y="491.8" width="40.1" height="40.1" fill="rgb(128,128,128)"/><rect x="261.2" y="491.8" width="40.1" height="40.1" fill="rgb(128,128,128)"/><rect x="300.8" y="491.8" width="40.1" height="40.1" fill="rgb(185,185,185)"/><rect x="340.2" y="491.8" width="40.1" height="40.1" fill="rgb(185,185,185)"/><rect x="379.8" y="491.8" width="40.1" height="40.1" fill="rgb(185,185,185)"/><rect x="419.2" y="491.8" width="40.1" height="40.1" fill="rgb(70,70,70)"/><rect x="458.8" y="491.8" width="40.1" height="40.1" fill="rgb(6,6,6)"/><rect x="498.2" y="491.8" width="40.1" height="40.1" fill="rgb(255,255,255)"/><rect x="537.8" y="491.8" width="40.1" height="40.1" fill="rgb(255,255,255)"/><rect x="577.2" y="491.8" width="40.1" height="40.1" fill="rgb(255,255,255)"/><rect x="24.2" y="531.2" width="40.1" height="40.1" fill="rgb(128,128,128)"/><rect x="63.8" y="531.2" width="40.1" height="40.1" fill="rgb(128,128,128)"/><rect x="103.2" y="531.2" width="40.1" height="40.1" fill="rgb(128,128,128)"/><rect x="142.8" y="531.2" width="40.1" height="40.1" fill="rgb(128,128,128)"/><rect x="182.2" y="531.2" width="40.1" height="40.1" fill="rgb(128,128,128)"/><rect x="221.8" y="531.2" width="40.1" height="40.1" fill="rgb(128,128,128)"/><rect x="261.2" y="531.2" width="40.1" height="40.1" fill="rgb(128,128,128)"/><rect x="300.8" y="531.2" width="40.1" height="40.1" fill="rgb(199,199,199)"/><rect x="340.2" y="531.2" width="40.1" height="40.1" fill="rgb(199,199,199)"/><rect x="379.8" y="531.2" width="40.1" height="40.1" fill="rgb(199,199,199)"/><rect x="419.2" y="531.2" width="40.1" height="40.1" fill="rgb(170,170,170)"/><rect x="458.8" y="531.2" width="40.1" height="40.1" fill="rgb(99,99,99)"/><rect x="498.2" y="531.2" width="40.1" height="40.1" fill="rgb(0,0,0)"/><rect x="537.8" y="531.2" width="40.1" height="40.1" fill="rgb(255,255,255)"/><rect x="577.2" y="531.2" width="40.1" height="40.1" fill="rgb(255,255,255)"/><rect x="24.2" y="570.8" width="40.1" height="40.1" fill="rgb(128,128,128)"/><rect x="63.8" y="570.8" width="40.1" height="40.1" fill="rgb(128,128,128)"/><rect x="103.2" y="570.8" width="40.1" height="40.1" fill="rgb(128,128,128)"/><rect x="142.8" y="570.8" width="40.1" height="40.1" fill="rgb(128,128,128)"/><rect x="182.2" y="570.8" width="40.1" height="40.1" fill="rgb(128,128,128)"/><rect x="221.8" y="570.8" width="40.1" height="40.1" fill="rgb(128,128,128)"/><rect x="261.2" y="570.8" width="40.1" height="40.1" fill="rgb(128,128,128)"/><rect x="300.8" y="570.8" width="40.1" height="40.1" fill="rgb(213,213,213)"/><rect x="340.2" y="570.8" width="40.1" height="40.1" fill="rgb(213,213,213)"/><rect x="379.8" y="570.8" width="40.1" height="40.1" fill="rgb(213,213,213)"/><rect x="419.2" y="570.8" width="40.1" height="40.1" fill="rgb(199,199,199)"/><rect x="458.8" y="570.8" width="40.1" height="40.1" fill="rgb(128,128,128)"/><rect x="498.2" y="570.8" width="40.1" height="40.1" fill="rgb(156,156,156)"/><rect x="537.8" y="570.8" width="40.1" height="40.1" fill="rgb(99,99,99)"/><rect x="577.2" y="570.8" width="40.1" height="40.1" fill="rgb(99,99,99)"/><rect x="24.2" y="610.2" width="40.1" height="40.1" fill="rgb(128,128,128)"/><rect x="63.8" y="610.2" width="40.1" height="40.1" fill="rgb(128,128,128)"/><rect x="103.2" y="610.2" width="40.1" height="40.1" fill="rgb(128,128,128)"/><rect x="142.8" y="610.2" width="40.1" height="40.1" fill="rgb(128,128,128)"/><rect x="182.2" y="610.2" width="40.1" height="40.1" fill="rgb(128,128,128)"/><rect x="221.8" y="610.2" width="40.1" height="40.1" fill="rgb(128,128,128)"/><rect x="261.2" y="610.2" width="40.1" height="40.1" fill="rgb(128,128,128)"/><rect x="300.8" y="610.2" width="40.1" height="40.1" fill="rgb(227,227,227)"/><rect x="340.2" y="610.2" width="40.1" height="40.1" fill="rgb(227,227,227)"/><rect x="379.8" y="610.2" width="40.1" height="40.1" fill="rgb(227,227,227)"/><rect x="419.2" y="610.2" width="40.1" height="40.1" fill="rgb(227,227,227)"/><rect x="458.8" y="610.2" width="40.1" height="40.1" fill="rgb(99,99,99)"/><rect x="498.2" y="610.2" width="40.1" height="40.1" fill="rgb(99,99,99)"/><rect x="537.8" y="610.2" width="40.1" height="40.1" fill="rgb(85,85,85)"/><rect x="577.2" y="610.2" width="40.1" height="40.1" fill="rgb(85,85,85)"/><rect x="24.2" y="649.8" width="40.1" height="40.1" fill="rgb(128,128,128)"/><rect x="63.8" y="649.8" width="40.1" height="40.1" fill="rgb(128,128,128)"/><rect x="103.2" y="649.8" width="40.1" height="40.1" fill="rgb(128,128,128)"/><rect x="142.8" y="649.8" width="40.1" height="40.1" fill="rgb(128,128,128)"/><rect x="182.2" y="649.8" width="40.1" height="40.1" fill="rgb(128,128,128)"/><rect x="221.8" y="649.8" width="40.1" height="40.1" fill="rgb(128,128,128)"/><rect x="261.2" y="649.8" width="40.1" height="40.1" fill="rgb(128,128,128)"/><rect x="300.8" y="649.8" width="40.1" height="40.1" fill="rgb(227,227,227)"/><rect x="340.2" y="649.8" width="40.1" height="40.1" fill="rgb(227,227,227)"/><rect x="379.8" y="649.8" width="40.1" height="40.1" fill="rgb(227,227,227)"/><rect x="419.2" y="649.8" width="40.1" height="40.1" fill="rgb(227,227,227)"/><rect x="458.8" y="649.8" width="40.1" height="40.1" fill="rgb(99,99,99)"/><rect x="498.2" y="649.8" width="40.1" height="40.1" fill="rgb(99,99,99)"/><rect x="537.8" y="649.8" width="40.1" height="40.1" fill="rgb(85,85,85)"/><rect x="577.2" y="649.8" width="40.1" height="40.1" fill="rgb(85,85,85)"/></g></g>
<path d="M437.5,231.3 L446.3,224.0 L458.0,216.7 L465.4,206.4 L480.0,204.5 L494.5,203.0 L508.5,201.8 L522.7,202.6 L536.9,199.1 L544.0,188.4 L552.9,181.3 L554.7,170.7 L563.6,166.2 L567.1,174.2 L600.0,174.2 L600.0,220.4 L561.8,220.4 L552.9,227.5 L544.0,234.6 L533.4,243.5 L522.7,238.2 L520.9,227.5 L524.5,221.3 L508.5,222.5 L505.0,225.5 L487.4,228.4 L472.7,229.9 L463.9,231.3 L452.1,238.7 L446.3,241.6 L440.0,238.0 Z" fill="#e0e0e0"/>
<path d="M467.0,243.0 L478.0,235.0 L494.7,229.9 L507.9,227.0 L514.0,232.0 L510.8,243.1 L499.0,249.0 L484.4,253.3 L472.7,259.2 L468.0,250.0 Z" fill="#e0e0e0"/>
<path d="M411.0,246.0 L420.0,242.0 L432.0,240.0 L443.3,241.6 L455.0,244.0 L461.0,253.3 L456.0,262.0 L452.1,268.0 L449.2,282.7 L443.0,290.0 L436.0,293.0 L429.0,290.0 L425.0,280.0 L422.8,268.0 L416.0,262.0 L410.0,256.0 Z" fill="#e0e0e0"/>
<path d="M227.8,445.0 L237.9,417.6 L246.7,408.8 L253.0,406.3 L260.5,411.3 L258.0,420.1 L254.2,445.0 Z" fill="#e0e0e0"/>
<ellipse cx="350.5" cy="247.5" rx="7.5" ry="3.2" fill="#e0e0e0"/>
<ellipse cx="406.5" cy="227.5" rx="2.2" ry="5.5" transform="rotate(25 406.5 227.5)" fill="#e0e0e0"/>
<path d="M366.2,33.5 C368.9,31.5 373.9,25.8 379.7,22.8 C385.5,19.8 393.1,17.1 401.2,15.5 C409.2,13.9 419.1,12.9 428.0,13.4 C436.9,13.9 447.3,15.6 454.9,18.7 C462.5,21.8 468.3,26.8 473.7,32.2 C479.1,37.6 484.0,44.3 487.1,51.0 C490.2,57.7 492.5,65.8 492.5,72.5 C492.5,79.2 490.2,85.9 487.1,91.3 C484.0,96.7 477.1,100.7 473.7,104.7 C470.3,108.7 468.9,112.1 467.0,115.4 C465.1,118.8 461.3,122.1 462.4,124.8 C463.5,127.5 469.6,128.2 473.7,131.6 C477.8,135.0 483.8,139.6 487.1,145.0 C490.5,150.4 493.4,157.5 493.8,163.8 C494.2,170.1 492.7,176.8 489.8,182.6 C486.9,188.4 480.4,194.9 476.4,198.7 C472.4,202.5 468.3,201.8 465.6,205.4 C462.9,209.0 463.0,214.6 460.3,220.2 C457.6,225.8 454.0,233.2 449.5,239.0 C445.0,244.8 438.8,250.8 433.4,255.1 C428.0,259.4 422.7,262.3 417.3,264.5 C411.9,266.7 406.6,266.5 401.2,268.5 C395.8,270.5 390.4,273.5 385.0,276.6 C379.6,279.7 374.3,284.4 368.9,287.3 C363.5,290.2 357.7,292.5 352.8,294.1 C347.9,295.7 344.8,296.9 339.4,296.7 C334.0,296.5 326.4,295.1 320.6,292.7 C314.8,290.2 308.1,284.9 304.5,282.0 C300.9,279.1 302.7,278.4 299.1,275.3 C295.5,272.2 287.5,268.3 283.0,263.2 C278.5,258.1 274.4,251.1 272.2,244.4 C269.9,237.7 269.5,229.2 269.5,222.9 C269.5,216.6 270.6,211.1 272.2,206.8 C273.8,202.6 278.4,201.0 278.9,197.4 C279.3,193.8 277.3,189.6 274.9,185.3 C272.4,181.0 266.9,176.3 264.2,171.8 C261.5,167.3 259.6,163.1 258.8,158.4 C258.0,153.7 260.2,148.1 259.3,143.6 C258.4,139.1 254.7,136.3 253.4,131.6 C252.1,126.9 251.3,121.2 251.3,115.4 C251.3,109.6 251.2,102.4 253.4,96.6 C255.6,90.8 259.7,85.0 264.2,80.5 C268.7,76.0 274.7,72.5 280.3,69.8 C285.9,67.1 292.8,67.1 297.7,64.4 C302.6,61.7 304.6,57.3 309.8,53.7 C315.0,50.1 322.3,45.7 328.6,42.9 C334.9,40.1 341.6,38.3 347.4,37.0 C353.2,35.7 360.5,35.5 363.6,34.9 C366.7,34.3 363.5,35.5 366.2,33.5 Z" fill="none" stroke="#000" stroke-width="2.4"/>
<circle cx="399.5" cy="37.5" r="4.0" fill="#000"/>
<circle cx="439.0" cy="77.0" r="4.0" fill="#000"/>
<circle cx="518.0" cy="77.0" r="4.0" fill="#000"/>
<circle cx="557.5" cy="77.0" r="4.0" fill="#000"/>
<circle cx="360.0" cy="116.5" r="4.0" fill="#000"/>
<circle cx="478.5" cy="116.5" r="4.0" fill="#000"/>
<circle cx="518.0" cy="116.5" r="4.0" fill="#000"/>
<circle cx="320.5" cy="156.0" r="4.0" fill="#000"/>
<circle cx="360.0" cy="156.0" r="4.0" fill="#000"/>
<circle cx="399.5" cy="156.0" r="4.0" fill="#000"/>
<circle cx="478.5" cy="156.0" r="4.0" fill="#000"/>
<circle cx="518.0" cy="156.0" r="4.0" fill="#000"/>
<circle cx="557.5" cy="156.0" r="4.0" fill="#000"/>
<circle cx="281.0" cy="195.5" r="4.0" fill="#000"/>
<circle cx="320.5" cy="195.5" r="4.0" fill="#000"/>
<circle cx="518.0" cy="195.5" r="4.0" fill="#000"/>
<circle cx="241.5" cy="235.0" r="4.0" fill="#000"/>
<circle cx="281.0" cy="235.0" r="4.0" fill="#000"/>
<circle cx="320.5" cy="235.0" r="4.0" fill="#000"/>
<circle cx="399.5" cy="235.0" r="4.0" fill="#000"/>
<circle cx="478.5" cy="235.0" r="4.0" fill="#000"/>
<circle cx="241.5" cy="274.5" r="4.0" fill="#000"/>
<circle cx="360.0" cy="274.5" r="4.0" fill="#000"/>
<circle cx="439.0" cy="274.5" r="4.0" fill="#000"/>
<circle cx="241.5" cy="314.0" r="4.0" fill="#000"/>
<circle cx="399.5" cy="314.0" r="4.0" fill="#000"/>
<circle cx="439.0" cy="314.0" r="4.0" fill="#000"/>
<circle cx="241.5" cy="353.5" r="4.0" fill="#000"/>
<circle cx="281.0" cy="353.5" r="4.0" fill="#000"/>
<circle cx="399.5" cy="353.5" r="4.0" fill="#000"/>
<circle cx="439.0" cy="353.5" r="4.0" fill="#000"/>
<circle cx="241.5" cy="393.0" r="4.0" fill="#000"/>
<circle cx="241.5" cy="432.5" r="4.0" fill="#000"/>
<circle cx="360.0" cy="432.5" r="4.0" fill="#000"/>
<circle cx="399.5" cy="432.5" r="4.0" fill="#000"/>
<circle cx="518.0" cy="432.5" r="4.0" fill="#000"/>
<circle cx="439.0" cy="472.0" r="4.0" fill="#000"/>
<circle cx="478.5" cy="472.0" r="4.0" fill="#000"/>
<circle cx="439.0" cy="511.5" r="4.0" fill="#000"/>
<circle cx="478.5" cy="511.5" r="4.0" fill="#000"/>
<circle cx="518.0" cy="511.5" r="4.0" fill="#000"/>
<circle cx="557.5" cy="511.5" r="4.0" fill="#000"/>
<circle cx="518.0" cy="551.0" r="4.0" fill="#000"/>
<circle cx="557.5" cy="551.0" r="4.0" fill="#000"/>
<circle cx="439.0" cy="590.5" r="4.0" fill="#000"/>
</g></g>
<rect x="90.40" y="436.60" width="276.20" height="182.40" fill="#fff" stroke="none" stroke-width="1"/>
<linearGradient id="cbga" x1="0" y1="0" x2="0" y2="1"><stop offset="0.00" stop-color="rgb(255,8,5)"/><stop offset="0.05" stop-color="rgb(253,37,28)"/><stop offset="0.10" stop-color="rgb(252,66,52)"/><stop offset="0.15" stop-color="rgb(251,95,76)"/><stop offset="0.20" stop-color="rgb(250,125,100)"/><stop offset="0.25" stop-color="rgb(250,150,128)"/><stop offset="0.30" stop-color="rgb(251,175,156)"/><stop offset="0.35" stop-color="rgb(252,200,184)"/><stop offset="0.40" stop-color="rgb(253,218,208)"/><stop offset="0.45" stop-color="rgb(254,236,231)"/><stop offset="0.50" stop-color="rgb(255,255,255)"/><stop offset="0.55" stop-color="rgb(231,236,254)"/><stop offset="0.60" stop-color="rgb(208,217,253)"/><stop offset="0.65" stop-color="rgb(185,198,252)"/><stop offset="0.70" stop-color="rgb(160,182,252)"/><stop offset="0.75" stop-color="rgb(135,166,252)"/><stop offset="0.80" stop-color="rgb(109,150,252)"/><stop offset="0.85" stop-color="rgb(83,138,252)"/><stop offset="0.90" stop-color="rgb(57,127,253)"/><stop offset="0.95" stop-color="rgb(31,116,254)"/><stop offset="1.00" stop-color="rgb(5,105,255)"/></linearGradient>
<rect x="90.00" y="530.90" width="28.50" height="83.80" fill="url(#cbga)" stroke="none" stroke-width="1"/>
<rect x="82.00" y="8.00" width="430.00" height="616.00" fill="none" stroke="#6e6e6e" stroke-width="1.6"/>
<line x1="222.80" y1="4.00" x2="222.80" y2="8.00" stroke="#6e6e6e" stroke-width="1.3"/>
<line x1="222.80" y1="624.00" x2="222.80" y2="628.00" stroke="#6e6e6e" stroke-width="1.3"/>
<line x1="419.50" y1="4.00" x2="419.50" y2="8.00" stroke="#6e6e6e" stroke-width="1.3"/>
<line x1="419.50" y1="624.00" x2="419.50" y2="628.00" stroke="#6e6e6e" stroke-width="1.3"/>
<line x1="78.00" y1="314.00" x2="82.00" y2="314.00" stroke="#6e6e6e" stroke-width="1.3"/>
<line x1="512.00" y1="313.80" x2="516.00" y2="313.80" stroke="#6e6e6e" stroke-width="1.3"/>
<text x="784.96" y="618.00" font-size="15.20" font-weight="normal" fill="#222">130° E</text>
<rect x="538.70" y="436.60" width="273.50" height="182.40" fill="#fff" stroke="none" stroke-width="1"/>
<linearGradient id="cbgb" x1="0" y1="0" x2="0" y2="1"><stop offset="0.00" stop-color="rgb(255,8,5)"/><stop offset="0.05" stop-color="rgb(253,37,28)"/><stop offset="0.10" stop-color="rgb(252,66,52)"/><stop offset="0.15" stop-color="rgb(251,95,76)"/><stop offset="0.20" stop-color="rgb(250,125,100)"/><stop offset="0.25" stop-color="rgb(250,150,128)"/><stop offset="0.30" stop-color="rgb(251,175,156)"/><stop offset="0.35" stop-color="rgb(252,200,184)"/><stop offset="0.40" stop-color="rgb(253,218,208)"/><stop offset="0.45" stop-color="rgb(254,236,231)"/><stop offset="0.50" stop-color="rgb(255,255,255)"/><stop offset="0.55" stop-color="rgb(231,236,254)"/><stop offset="0.60" stop-color="rgb(208,217,253)"/><stop offset="0.65" stop-color="rgb(185,198,252)"/><stop offset="0.70" stop-color="rgb(160,182,252)"/><stop offset="0.75" stop-color="rgb(135,166,252)"/><stop offset="0.80" stop-color="rgb(109,150,252)"/><stop offset="0.85" stop-color="rgb(83,138,252)"/><stop offset="0.90" stop-color="rgb(57,127,253)"/><stop offset="0.95" stop-color="rgb(31,116,254)"/><stop offset="1.00" stop-color="rgb(5,105,255)"/></linearGradient>
<rect x="540.50" y="534.90" width="27.80" height="83.20" fill="url(#cbgb)" stroke="none" stroke-width="1"/>
<rect x="531.00" y="8.00" width="429.50" height="616.00" fill="none" stroke="#6e6e6e" stroke-width="1.6"/>
<line x1="610.90" y1="4.00" x2="610.90" y2="8.00" stroke="#6e6e6e" stroke-width="1.3"/>
<line x1="610.90" y1="624.00" x2="610.90" y2="628.00" stroke="#6e6e6e" stroke-width="1.3"/>
<line x1="807.60" y1="4.00" x2="807.60" y2="8.00" stroke="#6e6e6e" stroke-width="1.3"/>
<line x1="807.60" y1="624.00" x2="807.60" y2="628.00" stroke="#6e6e6e" stroke-width="1.3"/>
<line x1="527.00" y1="314.00" x2="531.00" y2="314.00" stroke="#6e6e6e" stroke-width="1.3"/>
<line x1="960.50" y1="313.80" x2="964.50" y2="313.80" stroke="#6e6e6e" stroke-width="1.3"/>
<text x="89.79" y="71.10" font-size="63.52" font-weight="normal" fill="#000" textLength="33.48" lengthAdjust="spacingAndGlyphs">a</text>
<text x="535.40" y="70.60" font-size="63.45" font-weight="normal" fill="#000" textLength="36.83" lengthAdjust="spacingAndGlyphs">b</text>
<text x="93.64" y="458.50" font-size="23.85" font-weight="bold" fill="#000">June-July-August</text>
<text x="92.45" y="486.30" font-size="23.86" font-weight="bold" fill="#000">Period 2 minus Period 1</text>
<text x="92.45" y="512.40" font-size="23.92" font-weight="bold" fill="#000">Difference (knots)</text>
<text x="122.90" y="545.50" font-size="24.47" font-weight="normal" fill="#000">80</text>
<text x="124.22" y="581.20" font-size="24.58" font-weight="normal" fill="#000">0</text>
<text x="123.12" y="614.50" font-size="23.96" font-weight="normal" fill="#000">-80</text>
<text x="539.79" y="458.50" font-size="23.73" font-weight="bold" fill="#000">Sept-Oct</text>
<text x="538.95" y="486.90" font-size="23.86" font-weight="bold" fill="#000">Period 2 minus Period 1</text>
<text x="538.95" y="512.80" font-size="23.92" font-weight="bold" fill="#000">Difference (knots)</text>
<text x="572.30" y="549.50" font-size="24.47" font-weight="normal" fill="#000">80</text>
<text x="574.02" y="585.20" font-size="24.58" font-weight="normal" fill="#000">0</text>
<text x="573.22" y="618.50" font-size="23.96" font-weight="normal" fill="#000">-80</text>
<text x="396.86" y="618.00" font-size="15.20" font-weight="normal" fill="#222">130° E</text>
<text transform="translate(504.77,333.00) rotate(-90)" font-size="15.06" font-weight="normal" fill="#222">30° N</text>
<text transform="translate(952.55,332.41) rotate(-90)" font-size="15.27" font-weight="normal" fill="#222">30° N</text>
<rect x="110.00" y="673.00" width="386.00" height="555.50" fill="none" stroke="#808080" stroke-width="1.4"/>
<line x1="110.00" y1="1228.50" x2="110.00" y2="1233.50" stroke="#808080" stroke-width="1.3"/>
<line x1="138.90" y1="1228.50" x2="138.90" y2="1233.50" stroke="#808080" stroke-width="1.3"/>
<line x1="167.80" y1="1228.50" x2="167.80" y2="1233.50" stroke="#808080" stroke-width="1.3"/>
<line x1="196.70" y1="1228.50" x2="196.70" y2="1233.50" stroke="#808080" stroke-width="1.3"/>
<line x1="225.60" y1="1228.50" x2="225.60" y2="1233.50" stroke="#808080" stroke-width="1.3"/>
<line x1="254.50" y1="1228.50" x2="254.50" y2="1233.50" stroke="#808080" stroke-width="1.3"/>
<line x1="283.40" y1="1228.50" x2="283.40" y2="1233.50" stroke="#808080" stroke-width="1.3"/>
<line x1="312.30" y1="1228.50" x2="312.30" y2="1233.50" stroke="#808080" stroke-width="1.3"/>
<line x1="341.20" y1="1228.50" x2="341.20" y2="1233.50" stroke="#808080" stroke-width="1.3"/>
<line x1="370.10" y1="1228.50" x2="370.10" y2="1233.50" stroke="#808080" stroke-width="1.3"/>
<line x1="399.00" y1="1228.50" x2="399.00" y2="1233.50" stroke="#808080" stroke-width="1.3"/>
<line x1="427.90" y1="1228.50" x2="427.90" y2="1233.50" stroke="#808080" stroke-width="1.3"/>
<line x1="456.80" y1="1228.50" x2="456.80" y2="1233.50" stroke="#808080" stroke-width="1.3"/>
<line x1="485.70" y1="1228.50" x2="485.70" y2="1233.50" stroke="#808080" stroke-width="1.3"/>
<line x1="102.50" y1="801.00" x2="110.00" y2="801.00" stroke="#808080" stroke-width="1.3"/>
<line x1="102.50" y1="1014.75" x2="110.00" y2="1014.75" stroke="#808080" stroke-width="1.3"/>
<line x1="102.50" y1="1228.50" x2="110.00" y2="1228.50" stroke="#808080" stroke-width="1.3"/>
<line x1="114.50" y1="828.80" x2="492.10" y2="940.40" stroke="#4cbfea" stroke-width="1.6"/>
<line x1="114.50" y1="1017.10" x2="492.10" y2="803.00" stroke="#000" stroke-width="1.4"/>
<line x1="132.70" y1="976.00" x2="304.20" y2="976.00" stroke="#000" stroke-width="3.2" stroke-dasharray="12.5 5.2"/>
<line x1="317.60" y1="837.10" x2="470.50" y2="837.10" stroke="#000" stroke-width="3.2" stroke-dasharray="12.5 5.2"/>
<polyline points="134.2,942.9 143.8,809.2 153.5,787.9 163.1,820.0 172.7,852.6 182.4,866.4 192.0,846.8 201.7,836.4 211.3,868.0 220.9,900.5 230.6,856.0 240.2,748.9 249.8,733.4 259.5,818.0 269.1,903.6 278.7,922.2 288.4,898.8 298.0,893.9 307.6,904.0 317.3,896.0 326.9,866.0 336.6,869.1 346.2,933.0 355.8,997.9 365.5,994.1 375.1,955.5 384.7,966.4 394.4,997.9 404.0,976.2 413.6,917.7 423.3,871.2 432.9,850.1 442.6,860.9 452.2,892.9 461.8,918.7 471.5,885.7" fill="none" stroke="#6464f5" stroke-width="2.6" stroke-linejoin="round"/>
<polyline points="134.2,910.4 143.8,934.6 153.5,942.2 163.1,925.3 172.7,898.8 182.4,935.6 192.0,1018.0 201.7,1092.6 211.3,1119.4 220.9,1094.6 230.6,1063.2 240.2,1005.0 249.8,939.7 259.5,923.2 269.1,934.6 278.7,955.2 288.4,967.6 298.0,955.9 307.6,904.6 317.3,826.8 326.9,772.0 336.6,802.0 346.2,868.1 355.8,897.0 365.5,882.6 375.1,851.6 384.7,823.7 394.4,801.0 404.0,785.9 413.6,794.8 423.3,817.5 432.9,837.1 442.6,840.2 452.2,853.2 461.8,884.6 471.5,890.8" fill="none" stroke="#000" stroke-width="2.6" stroke-linejoin="round"/>
<rect x="598.10" y="674.00" width="364.90" height="553.20" fill="none" stroke="#808080" stroke-width="1.4"/>
<line x1="597.80" y1="1227.20" x2="597.80" y2="1232.20" stroke="#808080" stroke-width="1.3"/>
<line x1="625.22" y1="1227.20" x2="625.22" y2="1232.20" stroke="#808080" stroke-width="1.3"/>
<line x1="652.64" y1="1227.20" x2="652.64" y2="1232.20" stroke="#808080" stroke-width="1.3"/>
<line x1="680.06" y1="1227.20" x2="680.06" y2="1232.20" stroke="#808080" stroke-width="1.3"/>
<line x1="707.48" y1="1227.20" x2="707.48" y2="1232.20" stroke="#808080" stroke-width="1.3"/>
<line x1="734.90" y1="1227.20" x2="734.90" y2="1232.20" stroke="#808080" stroke-width="1.3"/>
<line x1="762.32" y1="1227.20" x2="762.32" y2="1232.20" stroke="#808080" stroke-width="1.3"/>
<line x1="789.74" y1="1227.20" x2="789.74" y2="1232.20" stroke="#808080" stroke-width="1.3"/>
<line x1="817.16" y1="1227.20" x2="817.16" y2="1232.20" stroke="#808080" stroke-width="1.3"/>
<line x1="844.58" y1="1227.20" x2="844.58" y2="1232.20" stroke="#808080" stroke-width="1.3"/>
<line x1="872.00" y1="1227.20" x2="872.00" y2="1232.20" stroke="#808080" stroke-width="1.3"/>
<line x1="899.42" y1="1227.20" x2="899.42" y2="1232.20" stroke="#808080" stroke-width="1.3"/>
<line x1="926.84" y1="1227.20" x2="926.84" y2="1232.20" stroke="#808080" stroke-width="1.3"/>
<line x1="954.26" y1="1227.20" x2="954.26" y2="1232.20" stroke="#808080" stroke-width="1.3"/>
<line x1="590.60" y1="674.00" x2="598.10" y2="674.00" stroke="#808080" stroke-width="1.3"/>
<line x1="590.60" y1="858.40" x2="598.10" y2="858.40" stroke="#808080" stroke-width="1.3"/>
<line x1="590.60" y1="1042.80" x2="598.10" y2="1042.80" stroke="#808080" stroke-width="1.3"/>
<line x1="590.60" y1="1227.20" x2="598.10" y2="1227.20" stroke="#808080" stroke-width="1.3"/>
<line x1="603.70" y1="889.00" x2="960.00" y2="1003.50" stroke="#3d6bff" stroke-width="1.3"/>
<line x1="603.70" y1="1020.70" x2="960.00" y2="935.80" stroke="#000" stroke-width="1.3" stroke-dasharray="5 3"/>
<line x1="603.70" y1="1045.20" x2="960.00" y2="933.90" stroke="#000" stroke-width="1.5"/>
<polyline points="621.2,981.0 630.3,998.8 639.5,999.9 648.6,1035.7 657.8,1103.6 666.9,1105.5 676.0,994.3 685.2,922.6 694.3,885.2 703.5,921.0 712.6,981.0 721.7,998.0 730.9,998.0 740.0,975.4 749.2,864.4 758.3,814.3 767.4,814.3 776.6,890.8 785.7,1028.2 794.9,1073.5 804.0,1073.5 813.1,1073.5 822.3,1054.6 831.4,1018.8 840.6,1018.8 849.7,1050.8 858.8,1073.5 868.0,1050.8 877.1,1001.8 886.3,967.9 895.4,962.2 904.5,960.3 913.7,947.1 922.8,906.0 932.0,826.7 941.1,723.0" fill="none" stroke="#000" stroke-width="1.4" stroke-linejoin="round" stroke-dasharray="4.5 2.6"/>
<polyline points="621.2,936.4 630.3,838.0 639.5,763.4 648.6,821.0 657.8,946.0 666.9,1001.0 676.0,981.5 685.2,938.0 694.3,898.4 703.5,853.1 712.6,798.5 721.7,810.0 730.9,888.0 740.0,969.8 749.2,1003.7 758.3,992.4 767.4,992.4 776.6,990.5 785.7,975.4 794.9,956.6 804.0,936.6 813.1,960.3 822.3,990.5 831.4,1020.7 840.6,1062.0 849.7,1111.2 858.8,1116.8 868.0,1032.0 877.1,924.6 886.3,902.0 895.4,924.6 904.5,948.0 913.7,971.6 922.8,981.0 932.0,900.0 941.1,843.7" fill="none" stroke="#3d6bff" stroke-width="2.8" stroke-linejoin="round"/>
<polyline points="621.2,1042.5 630.3,1024.4 639.5,1041.4 648.6,1077.2 657.8,1114.9 666.9,1114.9 676.0,1013.1 685.2,926.4 694.3,877.6 703.5,915.3 712.6,983.0 721.7,1039.5 730.9,1081.0 740.0,1096.1 749.2,1035.7 758.3,941.5 767.4,877.6 776.6,933.0 785.7,1024.4 794.9,1041.4 804.0,975.4 813.1,930.2 822.3,913.2 831.4,930.2 840.6,983.0 849.7,1022.5 858.8,1005.6 868.0,964.1 877.1,949.0 886.3,969.8 895.4,1005.6 904.5,1022.5 913.7,1003.7 922.8,960.3 932.0,883.3 941.1,821.1" fill="none" stroke="#000" stroke-width="2.8" stroke-linejoin="round"/>
<rect x="110.00" y="1269.00" width="385.50" height="572.00" fill="none" stroke="#808080" stroke-width="1.4"/>
<line x1="110.30" y1="1841.00" x2="110.30" y2="1846.00" stroke="#808080" stroke-width="1.3"/>
<line x1="139.20" y1="1841.00" x2="139.20" y2="1846.00" stroke="#808080" stroke-width="1.3"/>
<line x1="168.10" y1="1841.00" x2="168.10" y2="1846.00" stroke="#808080" stroke-width="1.3"/>
<line x1="197.00" y1="1841.00" x2="197.00" y2="1846.00" stroke="#808080" stroke-width="1.3"/>
<line x1="225.90" y1="1841.00" x2="225.90" y2="1846.00" stroke="#808080" stroke-width="1.3"/>
<line x1="254.80" y1="1841.00" x2="254.80" y2="1846.00" stroke="#808080" stroke-width="1.3"/>
<line x1="283.70" y1="1841.00" x2="283.70" y2="1846.00" stroke="#808080" stroke-width="1.3"/>
<line x1="312.60" y1="1841.00" x2="312.60" y2="1846.00" stroke="#808080" stroke-width="1.3"/>
<line x1="341.50" y1="1841.00" x2="341.50" y2="1846.00" stroke="#808080" stroke-width="1.3"/>
<line x1="370.40" y1="1841.00" x2="370.40" y2="1846.00" stroke="#808080" stroke-width="1.3"/>
<line x1="399.30" y1="1841.00" x2="399.30" y2="1846.00" stroke="#808080" stroke-width="1.3"/>
<line x1="428.20" y1="1841.00" x2="428.20" y2="1846.00" stroke="#808080" stroke-width="1.3"/>
<line x1="457.10" y1="1841.00" x2="457.10" y2="1846.00" stroke="#808080" stroke-width="1.3"/>
<line x1="486.00" y1="1841.00" x2="486.00" y2="1846.00" stroke="#808080" stroke-width="1.3"/>
<line x1="102.50" y1="1269.00" x2="110.00" y2="1269.00" stroke="#808080" stroke-width="1.3"/>
<line x1="102.50" y1="1459.70" x2="110.00" y2="1459.70" stroke="#808080" stroke-width="1.3"/>
<line x1="102.50" y1="1650.30" x2="110.00" y2="1650.30" stroke="#808080" stroke-width="1.3"/>
<line x1="102.50" y1="1841.00" x2="110.00" y2="1841.00" stroke="#808080" stroke-width="1.3"/>
<line x1="114.00" y1="1476.60" x2="492.80" y2="1625.50" stroke="#3d6bff" stroke-width="1.3"/>
<line x1="114.00" y1="1659.40" x2="492.80" y2="1508.70" stroke="#000" stroke-width="1.4"/>
<polyline points="134.2,1509.0 143.8,1353.8 153.5,1304.7 163.1,1375.7 172.7,1500.0 182.4,1587.7 192.0,1639.5 201.7,1655.4 211.3,1647.5 220.9,1591.6 230.6,1500.0 240.2,1391.6 249.8,1400.4 259.5,1492.0 269.1,1559.7 278.7,1581.7 288.4,1585.7 298.0,1563.7 307.6,1537.8 317.3,1541.8 326.9,1563.7 336.6,1599.6 346.2,1635.5 355.8,1673.4 365.5,1667.4 375.1,1627.5 384.7,1607.6 394.4,1597.6 404.0,1565.7 413.6,1531.8 423.3,1545.8 432.9,1583.7 442.6,1619.6 452.2,1609.6 461.8,1559.7 471.5,1503.1" fill="none" stroke="#3d6bff" stroke-width="2.8" stroke-linejoin="round"/>
<polyline points="134.2,1604.4 143.8,1626.7 153.5,1625.9 163.1,1599.6 172.7,1570.9 182.4,1576.5 192.0,1627.5 201.7,1671.4 211.3,1691.3 220.9,1673.4 230.6,1643.5 240.2,1607.6 249.8,1579.7 259.5,1574.9 269.1,1607.6 278.7,1659.4 288.4,1684.1 298.0,1653.4 307.6,1597.6 317.3,1543.8 326.9,1545.8 336.6,1587.7 346.2,1627.5 355.8,1613.6 365.5,1559.7 375.1,1507.9 384.7,1463.4 394.4,1440.7 404.0,1477.0 413.6,1535.8 423.3,1575.7 432.9,1565.7 442.6,1549.8 452.2,1547.8 461.8,1523.9 471.5,1437.5" fill="none" stroke="#000" stroke-width="2.8" stroke-linejoin="round"/>
<rect x="601.60" y="1324.50" width="9.09" height="231.00" fill="#ff0000" stroke="#5a0000" stroke-width="0.8"/>
<rect x="610.69" y="1353.30" width="9.09" height="202.20" fill="#ff0000" stroke="#5a0000" stroke-width="0.8"/>
<rect x="619.78" y="1363.20" width="9.09" height="192.30" fill="#ff0000" stroke="#5a0000" stroke-width="0.8"/>
<rect x="628.87" y="1347.40" width="9.09" height="208.10" fill="#ff0000" stroke="#5a0000" stroke-width="0.8"/>
<rect x="637.96" y="1322.00" width="9.09" height="233.50" fill="#ff0000" stroke="#5a0000" stroke-width="0.8"/>
<rect x="647.05" y="1360.80" width="9.09" height="194.70" fill="#ff0000" stroke="#5a0000" stroke-width="0.8"/>
<rect x="656.14" y="1393.40" width="9.09" height="162.10" fill="#ff0000" stroke="#5a0000" stroke-width="0.8"/>
<rect x="665.23" y="1426.30" width="9.09" height="129.20" fill="#ff0000" stroke="#5a0000" stroke-width="0.8"/>
<rect x="674.32" y="1448.50" width="9.09" height="107.00" fill="#ff0000" stroke="#5a0000" stroke-width="0.8"/>
<rect x="683.41" y="1465.40" width="9.09" height="90.10" fill="#ff0000" stroke="#5a0000" stroke-width="0.8"/>
<rect x="692.50" y="1403.30" width="9.09" height="152.20" fill="#ff0000" stroke="#5a0000" stroke-width="0.8"/>
<rect x="701.59" y="1428.10" width="9.09" height="127.40" fill="#ff0000" stroke="#5a0000" stroke-width="0.8"/>
<rect x="710.68" y="1378.70" width="9.09" height="176.80" fill="#ff0000" stroke="#5a0000" stroke-width="0.8"/>
<rect x="719.77" y="1377.50" width="9.09" height="178.00" fill="#ff0000" stroke="#5a0000" stroke-width="0.8"/>
<rect x="728.86" y="1357.90" width="9.09" height="197.60" fill="#ff0000" stroke="#5a0000" stroke-width="0.8"/>
<rect x="737.95" y="1452.10" width="9.09" height="103.40" fill="#ff0000" stroke="#5a0000" stroke-width="0.8"/>
<rect x="747.04" y="1481.60" width="9.09" height="73.90" fill="#ff0000" stroke="#5a0000" stroke-width="0.8"/>
<rect x="756.13" y="1553.50" width="9.09" height="2.00" fill="#ff0000" stroke="#5a0000" stroke-width="0.8"/>
<rect x="765.22" y="1555.50" width="9.09" height="59.10" fill="#0bb0ee" stroke="#0a3a55" stroke-width="0.8"/>
<rect x="774.31" y="1555.50" width="9.09" height="116.10" fill="#0bb0ee" stroke="#0a3a55" stroke-width="0.8"/>
<rect x="783.40" y="1555.50" width="9.09" height="67.20" fill="#0bb0ee" stroke="#0a3a55" stroke-width="0.8"/>
<rect x="792.49" y="1555.50" width="9.09" height="14.00" fill="#0bb0ee" stroke="#0a3a55" stroke-width="0.8"/>
<rect x="801.58" y="1555.50" width="9.09" height="22.00" fill="#0bb0ee" stroke="#0a3a55" stroke-width="0.8"/>
<rect x="810.67" y="1555.50" width="9.09" height="2.00" fill="#0bb0ee" stroke="#0a3a55" stroke-width="0.8"/>
<rect x="819.76" y="1555.50" width="9.09" height="52.30" fill="#0bb0ee" stroke="#0a3a55" stroke-width="0.8"/>
<rect x="828.85" y="1555.50" width="9.09" height="115.10" fill="#0bb0ee" stroke="#0a3a55" stroke-width="0.8"/>
<rect x="837.94" y="1555.50" width="9.09" height="94.10" fill="#0bb0ee" stroke="#0a3a55" stroke-width="0.8"/>
<rect x="847.03" y="1555.50" width="9.09" height="103.10" fill="#0bb0ee" stroke="#0a3a55" stroke-width="0.8"/>
<rect x="856.12" y="1555.50" width="9.09" height="143.00" fill="#0bb0ee" stroke="#0a3a55" stroke-width="0.8"/>
<rect x="865.21" y="1555.50" width="9.09" height="151.60" fill="#0bb0ee" stroke="#0a3a55" stroke-width="0.8"/>
<rect x="874.30" y="1555.50" width="9.09" height="135.00" fill="#0bb0ee" stroke="#0a3a55" stroke-width="0.8"/>
<rect x="883.39" y="1555.50" width="9.09" height="120.10" fill="#0bb0ee" stroke="#0a3a55" stroke-width="0.8"/>
<rect x="892.48" y="1555.50" width="9.09" height="30.80" fill="#0bb0ee" stroke="#0a3a55" stroke-width="0.8"/>
<rect x="901.57" y="1534.10" width="9.09" height="21.40" fill="#ff0000" stroke="#5a0000" stroke-width="0.8"/>
<rect x="910.66" y="1484.90" width="9.09" height="70.60" fill="#ff0000" stroke="#5a0000" stroke-width="0.8"/>
<rect x="919.75" y="1461.40" width="9.09" height="94.10" fill="#ff0000" stroke="#5a0000" stroke-width="0.8"/>
<rect x="928.84" y="1507.20" width="9.09" height="48.30" fill="#ff0000" stroke="#5a0000" stroke-width="0.8"/>
<rect x="937.93" y="1555.50" width="9.09" height="20.40" fill="#0bb0ee" stroke="#0a3a55" stroke-width="0.8"/>
<polyline points="624.3,1774.0 633.4,1822.6 642.5,1790.9 651.6,1708.6 660.7,1659.0 669.8,1633.2 678.9,1566.0 688.0,1501.1 697.0,1506.0 706.1,1567.8 715.2,1598.5 724.3,1599.1 733.4,1615.4 742.5,1637.2 751.6,1599.5 760.7,1540.0 769.8,1472.3 778.9,1436.6 787.9,1431.6 797.0,1409.6 806.1,1354.7 815.2,1316.3 824.3,1348.7 833.4,1429.5 842.5,1521.2 851.6,1584.0 860.7,1598.8 869.8,1540.0 878.8,1473.4 887.9,1431.1 897.0,1474.3 906.1,1580.0 915.2,1686.5 924.3,1692.5 933.4,1570.0 942.5,1469.4" fill="none" stroke="#2ed3a0" stroke-width="2.0" stroke-linejoin="round"/>
<polyline points="624.3,1340.4 633.4,1329.1 642.5,1302.1 651.6,1323.2 660.7,1360.0 669.8,1408.0 678.9,1466.4 688.0,1476.3 697.0,1432.6 706.1,1369.6 715.2,1369.2 724.3,1405.9 733.4,1380.1 742.5,1306.3 751.6,1341.4 760.7,1507.0 769.8,1673.9 778.9,1678.8 787.9,1560.0 797.0,1494.9 806.1,1527.2 815.2,1605.0 824.3,1682.5 833.4,1688.5 842.5,1637.7 851.6,1581.9 860.7,1528.2 869.8,1537.1 878.8,1564.0 887.9,1599.8 897.0,1582.9 906.1,1533.0 915.2,1453.4 924.3,1419.9 933.4,1441.5 942.5,1487.3" fill="none" stroke="#111" stroke-width="2.0" stroke-linejoin="round"/>
<rect x="602.10" y="1270.30" width="362.90" height="570.40" fill="none" stroke="#808080" stroke-width="1.4"/>
<line x1="602.10" y1="1840.70" x2="602.10" y2="1845.70" stroke="#808080" stroke-width="1.3"/>
<line x1="656.60" y1="1840.70" x2="656.60" y2="1845.70" stroke="#808080" stroke-width="1.3"/>
<line x1="711.10" y1="1840.70" x2="711.10" y2="1845.70" stroke="#808080" stroke-width="1.3"/>
<line x1="765.60" y1="1840.70" x2="765.60" y2="1845.70" stroke="#808080" stroke-width="1.3"/>
<line x1="820.10" y1="1840.70" x2="820.10" y2="1845.70" stroke="#808080" stroke-width="1.3"/>
<line x1="874.60" y1="1840.70" x2="874.60" y2="1845.70" stroke="#808080" stroke-width="1.3"/>
<line x1="929.10" y1="1840.70" x2="929.10" y2="1845.70" stroke="#808080" stroke-width="1.3"/>
<line x1="594.60" y1="1270.30" x2="602.10" y2="1270.30" stroke="#808080" stroke-width="1.3"/>
<line x1="594.60" y1="1460.40" x2="602.10" y2="1460.40" stroke="#808080" stroke-width="1.3"/>
<line x1="594.60" y1="1650.60" x2="602.10" y2="1650.60" stroke="#808080" stroke-width="1.3"/>
<line x1="594.60" y1="1840.70" x2="602.10" y2="1840.70" stroke="#808080" stroke-width="1.3"/>
<text x="116.03" y="733.60" font-size="58.70" font-weight="normal" fill="#000" textLength="30.92" lengthAdjust="spacingAndGlyphs">c</text>
<line x1="317.50" y1="699.00" x2="332.80" y2="699.00" stroke="#6464f5" stroke-width="2.6"/>
<text x="334.00" y="707.20" font-size="26.59" font-weight="bold" fill="#000">JJA</text>
<line x1="411.40" y1="699.00" x2="425.50" y2="699.00" stroke="#000" stroke-width="2.6"/>
<text x="426.16" y="707.20" font-size="28.03" font-weight="bold" fill="#000">SO</text>
<text x="221.69" y="738.70" font-size="20.90" font-weight="bold" fill="#000">JJA vs SO: R=-0.39, p&lt;0.05</text>
<text x="49.66" y="809.75" font-size="26.43" font-weight="normal" fill="#000">0.4</text>
<text x="41.70" y="1023.05" font-size="26.43" font-weight="normal" fill="#000">-0.6</text>
<text x="41.60" y="1237.05" font-size="26.43" font-weight="normal" fill="#000">-1.6</text>
<text x="232.76" y="1096.00" font-size="23.94" font-weight="bold" fill="#000">y = 0.03x - 0.64, p&lt;0.05</text>
<text x="215.28" y="1127.50" font-size="23.76" font-weight="normal" fill="#6464f5">y = -0.01x + 0.24, p=0.097</text>
<text x="115.88" y="1162.50" font-size="23.98" font-weight="normal" fill="#000">Period 1: -0.42</text>
<text x="115.89" y="1190.80" font-size="23.83" font-weight="normal" fill="#000">Period 2: 0.23</text>
<text x="115.90" y="1218.90" font-size="23.78" font-weight="normal" fill="#000">Difference: 0.65, p&lt;0.01</text>
<text x="605.87" y="735.30" font-size="59.17" font-weight="normal" fill="#000" textLength="33.74" lengthAdjust="spacingAndGlyphs">d</text>
<line x1="685.90" y1="700.40" x2="707.40" y2="700.40" stroke="#3d6bff" stroke-width="2.8"/>
<text x="708.14" y="708.00" font-size="24.19" font-weight="bold" fill="#000">JJA</text>
<line x1="764.70" y1="701.00" x2="784.70" y2="701.00" stroke="#000" stroke-width="1.5" stroke-dasharray="4 2.5"/>
<text x="785.78" y="708.00" font-size="23.96" font-weight="bold" fill="#000">SO_KMA</text>
<line x1="899.70" y1="701.00" x2="919.30" y2="701.00" stroke="#000" stroke-width="2.8"/>
<text x="920.78" y="708.00" font-size="23.94" font-weight="bold" fill="#000">SO</text>
<text x="736.49" y="742.60" font-size="20.67" font-weight="bold" fill="#000">JJA vs SO: R=-0.01</text>
<text x="538.50" y="682.75" font-size="26.81" font-weight="normal" fill="#000">1.5</text>
<text x="539.12" y="867.15" font-size="26.43" font-weight="normal" fill="#000">0.5</text>
<text x="530.80" y="1051.25" font-size="26.43" font-weight="normal" fill="#000">-0.5</text>
<text x="530.36" y="1235.75" font-size="26.81" font-weight="normal" fill="#000">-1.5</text>
<text x="686.46" y="1153.40" font-size="23.87" font-weight="bold" fill="#000">y = 0.02x - 0.54, p&lt;0.01</text>
<text x="664.88" y="1182.00" font-size="23.77" font-weight="normal" fill="#4b7bec">y = -0.02x + 0.35, p=0.358</text>
<text x="114.28" y="1322.80" font-size="59.26" font-weight="normal" fill="#000" textLength="33.61" lengthAdjust="spacingAndGlyphs">e</text>
<line x1="340.00" y1="1300.20" x2="356.40" y2="1300.20" stroke="#3d6bff" stroke-width="2.6"/>
<text x="357.30" y="1308.10" font-size="26.98" font-weight="bold" fill="#000">JJA</text>
<line x1="426.20" y1="1300.20" x2="442.80" y2="1300.20" stroke="#000" stroke-width="2.6"/>
<text x="442.39" y="1308.10" font-size="26.86" font-weight="bold" fill="#000">SO</text>
<text x="305.69" y="1350.70" font-size="20.78" font-weight="normal" fill="#000">JJA vs SO: R=-0.04</text>
<text x="48.80" y="1277.75" font-size="26.81" font-weight="normal" fill="#000">1.5</text>
<text x="49.22" y="1468.45" font-size="26.43" font-weight="normal" fill="#000">0.5</text>
<text x="40.50" y="1659.05" font-size="26.43" font-weight="normal" fill="#000">-0.5</text>
<text x="39.86" y="1849.75" font-size="26.81" font-weight="normal" fill="#000">-1.5</text>
<text x="230.76" y="1735.90" font-size="23.71" font-weight="bold" fill="#000">y = 0.02x - 0.57, p&lt;0.01</text>
<text x="204.28" y="1765.60" font-size="23.90" font-weight="normal" fill="#4b7bec">y = -0.02x + 0.43, p=0.053</text>
<text x="90.09" y="1871.60" font-size="20.50" font-weight="normal" fill="#000">1981</text>
<text x="148.17" y="1871.60" font-size="20.50" font-weight="normal" fill="#000">1987</text>
<text x="206.09" y="1871.60" font-size="20.50" font-weight="normal" fill="#000">1993</text>
<text x="264.18" y="1871.60" font-size="20.50" font-weight="normal" fill="#000">1999</text>
<text x="322.41" y="1871.60" font-size="20.50" font-weight="normal" fill="#000">2005</text>
<text x="381.26" y="1871.60" font-size="20.50" font-weight="normal" fill="#000">2011</text>
<text x="438.57" y="1871.60" font-size="20.50" font-weight="normal" fill="#000">2017</text>
<text x="271.66" y="1902.50" font-size="26.83" font-weight="bold" fill="#000">Year</text>
<text x="605.78" y="1322.60" font-size="59.31" font-weight="normal" fill="#000" textLength="18.87" lengthAdjust="spacingAndGlyphs">f</text>
<text x="540.50" y="1279.05" font-size="26.81" font-weight="normal" fill="#000">1.5</text>
<text x="542.82" y="1469.15" font-size="26.43" font-weight="normal" fill="#000">0.5</text>
<text x="534.20" y="1659.35" font-size="26.43" font-weight="normal" fill="#000">-0.5</text>
<text x="533.66" y="1849.45" font-size="26.81" font-weight="normal" fill="#000">-1.5</text>
<text x="582.89" y="1866.60" font-size="20.50" font-weight="normal" fill="#000">1981</text>
<text x="637.54" y="1866.60" font-size="20.50" font-weight="normal" fill="#000">1987</text>
<text x="692.03" y="1866.60" font-size="20.50" font-weight="normal" fill="#000">1993</text>
<text x="746.69" y="1866.60" font-size="20.50" font-weight="normal" fill="#000">1999</text>
<text x="801.49" y="1866.60" font-size="20.50" font-weight="normal" fill="#000">2005</text>
<text x="856.91" y="1866.60" font-size="20.50" font-weight="normal" fill="#000">2011</text>
<text x="910.79" y="1866.60" font-size="20.50" font-weight="normal" fill="#000">2017</text>
<text x="762.47" y="1902.50" font-size="26.68" font-weight="bold" fill="#000">Year</text>
<rect x="697.20" y="1731.40" width="13.80" height="11.90" fill="#ff0000" stroke="#600" stroke-width="0.8"/>
<text x="713.05" y="1743.30" font-size="23.79" font-weight="bold" fill="#000">PDO</text>
<line x1="697.20" y1="1771.70" x2="711.40" y2="1771.70" stroke="#2ed3a0" stroke-width="2.2"/>
<text x="715.00" y="1778.20" font-size="23.68" font-weight="bold" fill="#000">WNPSH zonal index</text>
<line x1="697.20" y1="1806.80" x2="711.40" y2="1806.80" stroke="#111" stroke-width="2.2"/>
<text x="713.05" y="1813.10" font-size="23.88" font-weight="bold" fill="#000">EA jet index</text>
<text transform="translate(27.70,1073.26) rotate(-90)" font-size="24.03" font-weight="bold">Peak intensity (knots)</text>
<text transform="translate(528.20,1009.55) rotate(-90)" font-size="23.91" font-weight="bold">Frequency</text>
<text transform="translate(532.50,1688.23) rotate(-90)" font-size="23.74" font-weight="bold">standardized anomaly</text>
<text transform="translate(24.30,1639.27) rotate(-90)" font-size="22.75" font-weight="bold">ACE (10<tspan font-size="0.7em" dy="-0.45em">4</tspan><tspan dy="0.45em"> knots</tspan><tspan font-size="0.7em" dy="-0.45em">2</tspan><tspan dy="0.45em">)</tspan></text>
</svg></body></html>
